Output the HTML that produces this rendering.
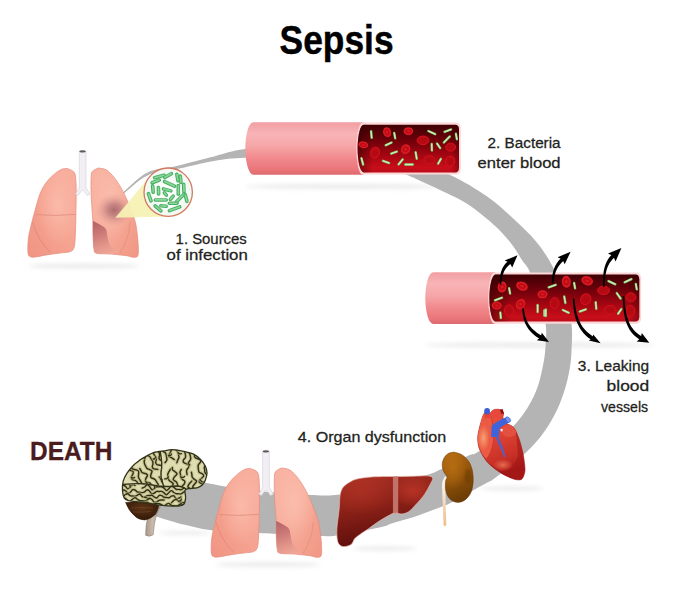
<!DOCTYPE html>
<html><head><meta charset="utf-8"><style>
html,body{margin:0;padding:0;background:#fff;}
svg{display:block;}
</style></head><body>
<svg width="673" height="596" viewBox="0 0 673 596">
<defs>
<linearGradient id="tubeG" x1="0" y1="0" x2="0" y2="1">
 <stop offset="0" stop-color="#f19ea1"/><stop offset="0.22" stop-color="#f8b4b6"/><stop offset="0.45" stop-color="#f6a6a8"/>
 <stop offset="0.7" stop-color="#f1888c"/><stop offset="0.9" stop-color="#ea7579"/><stop offset="1" stop-color="#dc6a70"/>
</linearGradient>
<linearGradient id="bloodG" x1="0" y1="0" x2="0" y2="1">
 <stop offset="0" stop-color="#3e0004"/><stop offset="0.3" stop-color="#6a000a"/><stop offset="0.65" stop-color="#a60612"/><stop offset="0.9" stop-color="#c80e1a"/><stop offset="1" stop-color="#bc0c18"/>
</linearGradient>
<linearGradient id="bloodH" x1="0" y1="0" x2="1" y2="0">
 <stop offset="0" stop-color="#300002" stop-opacity="0.55"/><stop offset="0.15" stop-color="#300002" stop-opacity="0"/>
 <stop offset="0.92" stop-color="#300002" stop-opacity="0"/><stop offset="1" stop-color="#300002" stop-opacity="0.35"/>
</linearGradient>
<linearGradient id="lungG1" x1="1" y1="0" x2="0" y2="1">
 <stop offset="0" stop-color="#f9b09f"/><stop offset="0.5" stop-color="#f6a391"/><stop offset="1" stop-color="#f09483"/>
</linearGradient>
<linearGradient id="lungG2" x1="0" y1="0" x2="1" y2="1">
 <stop offset="0" stop-color="#f9b4a4"/><stop offset="0.5" stop-color="#f7ab99"/><stop offset="1" stop-color="#f19684"/>
</linearGradient>
<linearGradient id="notchG" x1="0.3" y1="0" x2="0.6" y2="1">
 <stop offset="0" stop-color="#b86468"/><stop offset="0.35" stop-color="#cc7a78"/><stop offset="0.75" stop-color="#e4988c"/><stop offset="1" stop-color="#f0a696"/>
</linearGradient>
<radialGradient id="lungHi" cx="0.62" cy="0.42" r="0.45"><stop offset="0" stop-color="#fcc0b0" stop-opacity="0.75"/><stop offset="1" stop-color="#fcc0b0" stop-opacity="0"/></radialGradient>
<radialGradient id="lungHi2" cx="0.42" cy="0.38" r="0.45"><stop offset="0" stop-color="#fcc4b4" stop-opacity="0.7"/><stop offset="1" stop-color="#fcc4b4" stop-opacity="0"/></radialGradient>
<radialGradient id="infG"><stop offset="0" stop-color="#a46468" stop-opacity="0.9"/><stop offset="0.35" stop-color="#b47074" stop-opacity="0.7"/><stop offset="0.7" stop-color="#cc8482" stop-opacity="0.3"/><stop offset="1" stop-color="#e09a92" stop-opacity="0"/></radialGradient>
<radialGradient id="magG"><stop offset="0" stop-color="#ffffff"/><stop offset="1" stop-color="#f2f8f2"/></radialGradient>
<linearGradient id="liverG" x1="0" y1="0" x2="0.25" y2="1">
 <stop offset="0" stop-color="#a83024"/><stop offset="0.45" stop-color="#8e2218"/><stop offset="1" stop-color="#5e0e0c"/>
</linearGradient>
<radialGradient id="liverH" cx="0.8" cy="0.22" r="0.22"><stop offset="0" stop-color="#c23628" stop-opacity="0.75"/><stop offset="1" stop-color="#c83a2c" stop-opacity="0"/></radialGradient>
<radialGradient id="liverH2" cx="0.25" cy="0.2" r="0.35"><stop offset="0" stop-color="#b83426" stop-opacity="0.55"/><stop offset="1" stop-color="#c03a2a" stop-opacity="0"/></radialGradient>
<linearGradient id="ureG" x1="0" y1="0" x2="0" y2="1"><stop offset="0" stop-color="#fbf6f0"/><stop offset="0.35" stop-color="#f6e6d4"/><stop offset="1" stop-color="#eebc84"/></linearGradient>
<radialGradient id="kidH" cx="0.35" cy="0.3" r="0.45"><stop offset="0" stop-color="#c47818" stop-opacity="0.6"/><stop offset="1" stop-color="#cc7e1c" stop-opacity="0"/></radialGradient>
<radialGradient id="hHi"><stop offset="0" stop-color="#f8a474" stop-opacity="0.95"/><stop offset="1" stop-color="#f8a070" stop-opacity="0"/></radialGradient>
<radialGradient id="hHi2"><stop offset="0" stop-color="#f07a58" stop-opacity="0.8"/><stop offset="1" stop-color="#f07a58" stop-opacity="0"/></radialGradient>
<linearGradient id="stemG" x1="0" y1="0" x2="1" y2="0"><stop offset="0" stop-color="#a89888"/><stop offset="0.5" stop-color="#cbbcb0"/><stop offset="1" stop-color="#a89888"/></linearGradient>
<radialGradient id="cbG" cx="0.5" cy="0.35" r="0.7"><stop offset="0" stop-color="#5e3418"/><stop offset="1" stop-color="#2e1606"/></radialGradient>
<linearGradient id="kidG" x1="0" y1="0" x2="0.3" y2="1">
 <stop offset="0" stop-color="#b06610"/><stop offset="0.55" stop-color="#945408"/><stop offset="1" stop-color="#6e3e06"/>
</linearGradient>
<linearGradient id="heartG" x1="0" y1="0" x2="0.3" y2="1">
 <stop offset="0" stop-color="#ee5842"/><stop offset="0.45" stop-color="#de4434"/><stop offset="0.8" stop-color="#c83026"/><stop offset="1" stop-color="#a81a1a"/>
</linearGradient>
<filter id="blur1"><feGaussianBlur stdDeviation="1.2"/></filter>
<filter id="blur2"><feGaussianBlur stdDeviation="2"/></filter>

<clipPath id="magClip"><circle cx="168.2" cy="192.2" r="23.4"/></clipPath>
<clipPath id="clipT1"><rect x="358" y="124.7" width="101" height="47.6" rx="5"/></clipPath>
<clipPath id="clipT2"><rect x="490" y="274.6" width="149" height="47" rx="5"/></clipPath>
<clipPath id="heartClip"><path d="M482.7,416.4 C483.1,415.8 483.9,413.0 485.0,412.5 C486.1,412.0 488.0,413.9 489.5,413.5 C491.0,413.1 492.2,410.4 494.0,409.8 C495.8,409.2 498.4,409.1 500.0,409.6 C501.6,410.1 503.0,411.6 503.5,413.0 C504.0,414.4 502.6,416.3 503.0,418.0 C503.4,419.7 504.7,421.8 506.0,423.0 C507.3,424.2 509.6,424.6 511.0,425.5 C512.4,426.4 513.4,427.0 514.5,428.5 C515.6,430.0 516.5,432.4 517.4,434.6 C518.3,436.9 519.2,438.9 520.1,442.0 C521.0,445.1 522.1,449.2 522.9,453.0 C523.7,456.8 524.4,461.8 524.7,465.0 C525.0,468.2 525.2,470.1 524.7,472.4 C524.2,474.7 523.2,477.7 522.0,478.9 C520.8,480.1 519.2,479.9 517.4,479.8 C515.5,479.7 513.5,479.1 510.9,478.0 C508.3,476.9 504.8,475.2 501.7,473.4 C498.6,471.5 495.1,469.1 492.5,466.9 C489.9,464.7 487.9,462.7 486.0,460.4 C484.1,458.1 482.6,455.3 481.4,453.0 C480.2,450.7 479.2,449.2 478.6,446.6 C478.0,444.0 477.6,440.5 477.7,437.4 C477.8,434.3 478.6,431.5 479.4,428.0 C480.2,424.5 482.1,418.3 482.7,416.4 Z"/></clipPath>
<clipPath id="tlClip"><path d="M115,485 Q150,483 188,488 L195,515 L115,515 Z"/></clipPath>
<clipPath id="frClip"><path d="M110,440 L161,440 Q160,470 164,486.5 Q150,483 115,485 Z"/></clipPath>
<clipPath id="paClip"><path d="M161,440 L215,440 L215,492 L188,488 Q176,486 164,486.5 Q160,470 161,440 Z"/></clipPath>
<clipPath id="brainClip"><path d="M164.2,450.9 C165.6,450.7 169.1,449.5 172.6,449.6 C176.1,449.7 181.7,450.9 185.2,451.7 C188.7,452.5 191.1,452.9 193.6,454.2 C196.1,455.5 198.4,457.3 200.3,459.3 C202.2,461.3 204.2,463.8 205.3,466.0 C206.4,468.2 207.0,470.3 207.0,472.7 C207.0,475.1 206.1,478.1 205.3,480.2 C204.5,482.3 203.4,484.0 202.0,485.3 C200.6,486.6 199.2,487.2 196.9,487.8 C194.7,488.4 190.5,488.2 188.5,488.6 C186.5,489.1 185.5,488.9 185.0,490.5 C184.5,492.1 185.8,495.6 185.6,497.9 C185.3,500.2 185.2,503.1 183.5,504.5 C181.8,505.9 179.2,506.1 175.2,506.2 C171.2,506.3 163.9,505.7 159.6,505.2 C155.3,504.7 152.7,503.6 149.2,503.1 C145.7,502.6 142.3,502.4 138.8,502.0 C135.3,501.6 130.4,501.2 128.0,500.5 C125.6,499.8 125.1,499.5 124.2,497.9 C123.3,496.2 122.7,493.4 122.5,490.6 C122.3,487.8 122.5,484.0 123.2,481.2 C123.9,478.4 125.0,476.3 126.7,473.6 C128.4,470.9 131.3,467.5 133.5,465.2 C135.7,462.9 138.1,461.4 140.0,460.0 C141.9,458.6 142.9,458.0 145.2,456.8 C147.5,455.6 150.4,453.6 153.6,452.6 C156.8,451.6 162.4,451.2 164.2,450.9 Z"/></clipPath>
</defs>
<rect width="673" height="596" fill="#fff"/>
<g filter="url(#blur2)" fill="#e9e9e9"><ellipse cx="345" cy="186.5" rx="100" ry="2.3"/><ellipse cx="540" cy="345" rx="115" ry="2.3"/><ellipse cx="84" cy="266" rx="56" ry="2.3"/><ellipse cx="268" cy="564.5" rx="52" ry="2.3"/><ellipse cx="385" cy="548.5" rx="32" ry="2"/><ellipse cx="512" cy="488.5" rx="32" ry="2"/><ellipse cx="185" cy="533" rx="26" ry="1.8"/></g><path d="M108.0,206.0 C110.7,203.6 117.4,197.2 124.0,191.6 C130.6,186.0 138.7,176.8 147.5,172.5 C156.3,168.2 165.5,168.7 176.6,166.0 C187.7,163.3 202.6,159.2 214.0,156.4 C225.4,153.6 230.7,150.8 245.0,149.0 C259.3,147.2 280.8,145.3 300.0,145.5 C319.2,145.7 341.7,147.4 360.0,150.0 C378.3,152.6 395.0,156.8 410.0,161.0 C425.0,165.2 437.4,169.1 450.2,175.0 C463.0,180.9 476.2,189.0 486.8,196.3 C497.4,203.6 505.3,211.2 513.5,218.8 C521.7,226.4 529.8,233.9 536.2,241.7 C542.7,249.5 547.2,256.4 552.2,265.8 C557.2,275.2 562.8,288.1 566.0,298.0 C569.2,307.9 570.7,316.7 571.6,325.0 C572.5,333.3 571.9,341.0 571.6,348.0 C571.3,355.0 571.2,359.9 570.0,367.0 C568.8,374.1 567.0,382.7 564.5,390.5 C562.0,398.3 559.1,406.2 555.0,414.0 C550.9,421.8 545.8,430.2 540.0,437.5 C534.2,444.8 527.4,451.4 520.0,458.0 C512.6,464.6 501.1,473.3 495.7,477.4 C490.3,481.5 491.0,480.5 487.4,482.6 C483.8,484.7 480.1,486.6 473.9,490.0 C467.7,493.4 455.4,500.4 450.0,503.2 C444.6,506.0 446.7,504.7 441.3,506.8 C435.9,508.9 425.5,513.0 417.6,515.7 C409.7,518.4 400.2,520.8 393.8,522.8 C387.4,524.8 388.5,525.6 379.5,527.6 C370.5,529.6 349.8,533.6 340.0,535.0 C330.2,536.4 333.6,536.3 320.8,536.0 C308.0,535.7 281.0,534.1 263.0,533.2 C245.0,532.3 225.9,531.8 212.8,530.4 C199.7,529.0 193.8,527.0 184.6,524.8 C175.4,522.6 163.6,518.8 157.8,517.0 C152.0,515.2 151.3,514.5 150.0,514.0 L150,498 L155.0,480.0 C159.7,480.0 175.1,479.6 183.0,480.0 C190.9,480.4 195.2,481.2 202.4,482.3 C209.6,483.4 216.6,485.2 226.2,486.7 C235.8,488.2 245.6,489.8 260.0,491.2 C274.4,492.6 299.2,494.4 312.5,495.0 C325.8,495.6 328.2,496.0 339.5,494.5 C350.8,493.0 365.8,489.2 380.0,486.0 C394.2,482.8 414.7,478.2 425.0,475.4 C435.3,472.6 434.3,472.3 441.6,469.0 C448.9,465.7 462.7,458.4 468.6,455.6 C474.5,452.9 471.3,455.8 477.0,452.5 C482.7,449.2 495.3,442.4 503.0,436.0 C510.7,429.6 517.9,421.6 523.4,414.0 C528.9,406.4 533.1,398.3 536.3,390.5 C539.5,382.7 541.2,374.1 542.7,367.0 C544.2,359.9 544.9,355.0 545.4,348.0 C545.9,341.0 546.8,333.3 545.7,325.0 C544.6,316.7 541.7,307.0 539.0,298.0 C536.3,289.0 532.3,277.5 529.5,271.2 C526.7,264.9 525.2,264.9 522.0,260.0 C518.8,255.1 514.8,247.9 510.0,242.0 C505.2,236.1 500.6,230.8 493.4,224.4 C486.2,218.0 475.6,209.3 466.7,203.6 C457.8,197.9 449.9,194.8 440.0,190.0 C430.1,185.2 414.9,178.4 407.4,175.0 C399.9,171.6 402.9,171.8 395.0,169.5 C387.1,167.2 375.8,163.1 360.0,161.0 C344.2,158.9 319.2,157.5 300.0,157.0 C280.8,156.5 259.3,157.2 245.0,157.8 C230.7,158.5 225.4,159.0 214.0,160.9 C202.6,162.8 187.7,166.7 176.6,169.1 C165.5,171.5 156.3,171.4 147.5,175.5 C138.7,179.6 130.6,188.0 124.0,193.4 C117.4,198.8 110.7,205.6 108.0,208.0 Z" fill="#b4b4b4"/><g transform="translate(-183.3,-300)"><path d="M250.2,468.4 C251.3,468.9 255.5,470.0 257.0,471.7 C258.5,473.4 258.6,474.8 259.0,478.4 C259.4,482.0 259.5,487.4 259.5,493.5 C259.5,499.6 259.3,508.3 259.2,515.3 C259.1,522.3 258.9,530.1 258.6,535.4 C258.3,540.7 258.3,544.4 257.5,547.1 C256.7,549.8 255.9,550.6 253.6,551.6 C251.3,552.6 247.4,552.5 243.5,553.0 C239.6,553.5 234.3,554.2 230.1,554.9 C225.9,555.6 221.2,556.7 218.4,557.0 C215.6,557.3 214.6,557.3 213.4,556.6 C212.2,555.9 211.6,555.7 211.3,553.0 C211.0,550.3 211.1,544.7 211.5,540.4 C211.9,536.1 212.8,532.0 214.0,527.0 C215.2,522.0 216.8,515.9 218.4,510.3 C220.0,504.7 221.5,498.2 223.4,493.5 C225.3,488.8 227.6,485.2 230.1,481.8 C232.6,478.4 236.0,475.5 238.5,473.4 C241.0,471.3 243.2,470.0 245.2,469.2 C247.1,468.4 249.4,468.5 250.2,468.4 Z" fill="url(#lungG1)" stroke="#e48a7a" stroke-width="0.7"/><path d="M281.4,468.0 C282.8,468.3 287.0,468.3 289.8,470.0 C292.6,471.7 295.4,474.8 298.2,478.4 C301.0,482.0 304.0,487.0 306.5,491.8 C309.0,496.6 311.2,502.0 313.2,507.0 C315.2,512.0 317.4,517.3 318.6,522.0 C319.8,526.7 320.1,530.8 320.6,535.0 C321.1,539.2 321.5,543.6 321.6,547.1 C321.7,550.6 321.9,554.3 321.0,556.0 C320.1,557.7 317.9,557.2 316.0,557.2 C314.1,557.2 313.7,556.2 309.9,555.7 C306.1,555.2 298.1,554.4 293.1,554.0 C288.1,553.6 282.4,554.1 279.7,553.2 C277.0,552.3 277.8,551.8 277.2,548.8 C276.6,545.8 276.5,539.9 276.3,535.4 C276.1,530.9 276.4,526.2 276.2,522.0 C276.0,517.8 275.7,515.0 275.4,510.3 C275.1,505.6 274.6,498.8 274.4,493.5 C274.2,488.2 274.2,482.0 274.4,478.4 C274.6,474.8 274.3,473.4 275.5,471.7 C276.7,470.0 280.4,468.6 281.4,468.0 Z" fill="url(#lungG2)" stroke="#e48a7a" stroke-width="0.7"/><path d="M250.2,468.4 C251.3,468.9 255.5,470.0 257.0,471.7 C258.5,473.4 258.6,474.8 259.0,478.4 C259.4,482.0 259.5,487.4 259.5,493.5 C259.5,499.6 259.3,508.3 259.2,515.3 C259.1,522.3 258.9,530.1 258.6,535.4 C258.3,540.7 258.3,544.4 257.5,547.1 C256.7,549.8 255.9,550.6 253.6,551.6 C251.3,552.6 247.4,552.5 243.5,553.0 C239.6,553.5 234.3,554.2 230.1,554.9 C225.9,555.6 221.2,556.7 218.4,557.0 C215.6,557.3 214.6,557.3 213.4,556.6 C212.2,555.9 211.6,555.7 211.3,553.0 C211.0,550.3 211.1,544.7 211.5,540.4 C211.9,536.1 212.8,532.0 214.0,527.0 C215.2,522.0 216.8,515.9 218.4,510.3 C220.0,504.7 221.5,498.2 223.4,493.5 C225.3,488.8 227.6,485.2 230.1,481.8 C232.6,478.4 236.0,475.5 238.5,473.4 C241.0,471.3 243.2,470.0 245.2,469.2 C247.1,468.4 249.4,468.5 250.2,468.4 Z" fill="url(#lungHi)"/><path d="M281.4,468.0 C282.8,468.3 287.0,468.3 289.8,470.0 C292.6,471.7 295.4,474.8 298.2,478.4 C301.0,482.0 304.0,487.0 306.5,491.8 C309.0,496.6 311.2,502.0 313.2,507.0 C315.2,512.0 317.4,517.3 318.6,522.0 C319.8,526.7 320.1,530.8 320.6,535.0 C321.1,539.2 321.5,543.6 321.6,547.1 C321.7,550.6 321.9,554.3 321.0,556.0 C320.1,557.7 317.9,557.2 316.0,557.2 C314.1,557.2 313.7,556.2 309.9,555.7 C306.1,555.2 298.1,554.4 293.1,554.0 C288.1,553.6 282.4,554.1 279.7,553.2 C277.0,552.3 277.8,551.8 277.2,548.8 C276.6,545.8 276.5,539.9 276.3,535.4 C276.1,530.9 276.4,526.2 276.2,522.0 C276.0,517.8 275.7,515.0 275.4,510.3 C275.1,505.6 274.6,498.8 274.4,493.5 C274.2,488.2 274.2,482.0 274.4,478.4 C274.6,474.8 274.3,473.4 275.5,471.7 C276.7,470.0 280.4,468.6 281.4,468.0 Z" fill="url(#lungHi2)"/><path d="M276.2,521.0 C277.4,521.6 281.0,523.2 283.1,524.5 C285.2,525.8 287.8,526.9 289.0,528.7 C290.2,530.5 290.0,532.9 290.6,535.4 C291.2,537.9 291.4,541.5 292.5,543.8 C293.6,546.1 295.5,547.5 297.0,549.0 C298.5,550.5 302.2,551.7 301.5,552.5 C300.8,553.3 296.6,553.9 293.0,554.0 C289.4,554.1 282.3,554.1 279.7,553.2 C277.1,552.3 277.8,551.8 277.2,548.8 C276.6,545.8 276.5,540.0 276.3,535.4 C276.1,530.8 276.2,523.4 276.2,521.0 Z" fill="url(#notchG)"/><path d="M219.4,514.6 Q238,516.4 258.8,514.4" fill="none" stroke="#d98272" stroke-width="0.6"/><path d="M215.8,522 Q222,542 234,552.5" fill="none" stroke="#d98272" stroke-width="0.6"/><path d="M313.5,522 Q312,540 303,553.5" fill="none" stroke="#e08a7a" stroke-width="0.6"/><ellipse cx="297.5" cy="510" rx="19" ry="17" fill="url(#infG)"/><path d="M262.6,451.5 L262.6,487.5 Q261,491 258.8,494 L261.5,495.5 Q264,491.5 265.9,490 Q268,491.5 270.5,495.5 L273.5,494 Q271,491 269.3,487.5 L269.3,451.5 Z" fill="#f1eff3" stroke="#d2ced6" stroke-width="0.6"/><ellipse cx="265.95" cy="451.4" rx="3.2" ry="1.1" fill="#5e5a5e"/></g><path d="M115.3,217.8 L149.6,176.7 L168.2,192.2 L168.8,216.4 Z" fill="#f5f1b4" opacity="0.95"/><circle cx="168.2" cy="192.2" r="24.2" fill="url(#magG)" stroke="#d4785e" stroke-width="1.3"/><g clip-path="url(#magClip)"><g transform="translate(159.4,176.5) rotate(-15)"><rect x="-6.720000000000001" y="-1.8" width="13.440000000000001" height="3.6" rx="1.8" fill="#46b062"/><rect x="-5.5200000000000005" y="-0.9" width="11.040000000000001" height="1.6" rx="0.8" fill="#8cd69c"/></g><g transform="translate(168.1,175.6) rotate(-30)"><rect x="-5.6000000000000005" y="-1.8" width="11.200000000000001" height="3.6" rx="1.8" fill="#46b062"/><rect x="-4.4" y="-0.9" width="8.8" height="1.6" rx="0.8" fill="#8cd69c"/></g><g transform="translate(177.4,177.5) rotate(80)"><rect x="-5.040000000000001" y="-1.8" width="10.080000000000002" height="3.6" rx="1.8" fill="#46b062"/><rect x="-3.8400000000000007" y="-0.9" width="7.6800000000000015" height="1.6" rx="0.8" fill="#8cd69c"/></g><g transform="translate(180.6,179.3) rotate(85)"><rect x="-5.040000000000001" y="-1.8" width="10.080000000000002" height="3.6" rx="1.8" fill="#46b062"/><rect x="-3.8400000000000007" y="-0.9" width="7.6800000000000015" height="1.6" rx="0.8" fill="#8cd69c"/></g><g transform="translate(155.7,181.4) rotate(-20)"><rect x="-5.6000000000000005" y="-1.8" width="11.200000000000001" height="3.6" rx="1.8" fill="#46b062"/><rect x="-4.4" y="-0.9" width="8.8" height="1.6" rx="0.8" fill="#8cd69c"/></g><g transform="translate(169.5,183.9) rotate(25)"><rect x="-7.280000000000001" y="-1.8" width="14.560000000000002" height="3.6" rx="1.8" fill="#46b062"/><rect x="-6.080000000000001" y="-0.9" width="12.160000000000002" height="1.6" rx="0.8" fill="#8cd69c"/></g><g transform="translate(152.9,189) rotate(85)"><rect x="-5.040000000000001" y="-1.8" width="10.080000000000002" height="3.6" rx="1.8" fill="#46b062"/><rect x="-3.8400000000000007" y="-0.9" width="7.6800000000000015" height="1.6" rx="0.8" fill="#8cd69c"/></g><g transform="translate(158.5,190.8) rotate(88)"><rect x="-5.040000000000001" y="-1.8" width="10.080000000000002" height="3.6" rx="1.8" fill="#46b062"/><rect x="-3.8400000000000007" y="-0.9" width="7.6800000000000015" height="1.6" rx="0.8" fill="#8cd69c"/></g><g transform="translate(167.2,189.9) rotate(15)"><rect x="-5.6000000000000005" y="-1.8" width="11.200000000000001" height="3.6" rx="1.8" fill="#46b062"/><rect x="-4.4" y="-0.9" width="8.8" height="1.6" rx="0.8" fill="#8cd69c"/></g><g transform="translate(165.4,194) rotate(50)"><rect x="-3.3600000000000003" y="-1.8" width="6.720000000000001" height="3.6" rx="1.8" fill="#46b062"/><rect x="-2.16" y="-0.9" width="4.32" height="1.6" rx="0.8" fill="#8cd69c"/></g><g transform="translate(178.3,189.9) rotate(90)"><rect x="-6.16" y="-1.8" width="12.32" height="3.6" rx="1.8" fill="#46b062"/><rect x="-4.96" y="-0.9" width="9.92" height="1.6" rx="0.8" fill="#8cd69c"/></g><g transform="translate(183.8,188.1) rotate(88)"><rect x="-5.6000000000000005" y="-1.8" width="11.200000000000001" height="3.6" rx="1.8" fill="#46b062"/><rect x="-4.4" y="-0.9" width="8.8" height="1.6" rx="0.8" fill="#8cd69c"/></g><g transform="translate(149.7,197.3) rotate(70)"><rect x="-5.6000000000000005" y="-1.8" width="11.200000000000001" height="3.6" rx="1.8" fill="#46b062"/><rect x="-4.4" y="-0.9" width="8.8" height="1.6" rx="0.8" fill="#8cd69c"/></g><g transform="translate(160.8,200) rotate(0)"><rect x="-7.280000000000001" y="-1.8" width="14.560000000000002" height="3.6" rx="1.8" fill="#46b062"/><rect x="-6.080000000000001" y="-0.9" width="12.160000000000002" height="1.6" rx="0.8" fill="#8cd69c"/></g><g transform="translate(171.8,197.7) rotate(-50)"><rect x="-3.9200000000000004" y="-1.8" width="7.840000000000001" height="3.6" rx="1.8" fill="#46b062"/><rect x="-2.7200000000000006" y="-0.9" width="5.440000000000001" height="1.6" rx="0.8" fill="#8cd69c"/></g><g transform="translate(180.6,197.7) rotate(-45)"><rect x="-7.280000000000001" y="-1.8" width="14.560000000000002" height="3.6" rx="1.8" fill="#46b062"/><rect x="-6.080000000000001" y="-0.9" width="12.160000000000002" height="1.6" rx="0.8" fill="#8cd69c"/></g><g transform="translate(186.1,198.2) rotate(75)"><rect x="-5.040000000000001" y="-1.8" width="10.080000000000002" height="3.6" rx="1.8" fill="#46b062"/><rect x="-3.8400000000000007" y="-0.9" width="7.6800000000000015" height="1.6" rx="0.8" fill="#8cd69c"/></g><g transform="translate(158,208.4) rotate(40)"><rect x="-5.6000000000000005" y="-1.8" width="11.200000000000001" height="3.6" rx="1.8" fill="#46b062"/><rect x="-4.4" y="-0.9" width="8.8" height="1.6" rx="0.8" fill="#8cd69c"/></g><g transform="translate(163.5,206) rotate(5)"><rect x="-4.48" y="-1.8" width="8.96" height="3.6" rx="1.8" fill="#46b062"/><rect x="-3.2800000000000002" y="-0.9" width="6.5600000000000005" height="1.6" rx="0.8" fill="#8cd69c"/></g><g transform="translate(174.6,208.8) rotate(-20)"><rect x="-7.280000000000001" y="-1.8" width="14.560000000000002" height="3.6" rx="1.8" fill="#46b062"/><rect x="-6.080000000000001" y="-0.9" width="12.160000000000002" height="1.6" rx="0.8" fill="#8cd69c"/></g><g transform="translate(173.2,203.3) rotate(0)"><rect x="-5.6000000000000005" y="-1.8" width="11.200000000000001" height="3.6" rx="1.8" fill="#46b062"/><rect x="-4.4" y="-0.9" width="8.8" height="1.6" rx="0.8" fill="#8cd69c"/></g></g><path d="M253.3,122.3 L363.5,122.3 L363.5,174.8 L253.3,174.8 A8,26.250000000000007 0 0 1 253.3,122.3 Z" fill="url(#tubeG)"/><path d="M362.0,122.5 L455,122.5 Q460.8,122.5 460.8,128.3 L460.8,168.8 Q460.8,174.60000000000002 455,174.60000000000002 L362.0,174.60000000000002 A6.5,26.250000000000007 0 0 1 362.0,122.5 Z" fill="#fcd6d6"/><path d="M363.6,124.7 L455,124.7 Q459,124.7 459,129.7 L459,167.4 Q459,172.4 455,172.4 L363.6,172.4 A6.0,23.85 0 0 1 363.6,124.7 Z" fill="url(#bloodG)"/><path d="M363.6,124.7 L455,124.7 Q459,124.7 459,129.7 L459,167.4 Q459,172.4 455,172.4 L363.6,172.4 A6.0,23.85 0 0 1 363.6,124.7 Z" fill="url(#bloodH)"/><g clip-path="url(#clipT1)"><g transform="translate(387.1,132.2) rotate(75)"><ellipse rx="5" ry="4" fill="#dc1c24"/><ellipse rx="3.50" ry="2.56" fill="#c00c16"/><ellipse rx="1.60" ry="0.96" fill="#d81a22"/></g><g transform="translate(363.3,144.8) rotate(10)"><ellipse rx="4.9" ry="3.4" fill="#dc1c24"/><ellipse rx="3.43" ry="2.18" fill="#c00c16"/><ellipse rx="1.57" ry="0.82" fill="#d81a22"/></g><g transform="translate(375.0,152.6) rotate(20)"><ellipse rx="4.4" ry="5.4" fill="#b80a14" stroke="#d4121c" stroke-width="1"/><ellipse rx="1.98" ry="1.89" fill="#b00a12"/></g><g transform="translate(408.4,131.2) rotate(0)"><ellipse rx="4.8" ry="4" fill="#dc1c24"/><ellipse rx="3.36" ry="2.56" fill="#c00c16"/><ellipse rx="1.54" ry="0.96" fill="#d81a22"/></g><g transform="translate(405.6,149.2) rotate(30)"><ellipse rx="4.5" ry="5" fill="#dc1c24"/><ellipse rx="3.15" ry="3.20" fill="#c00c16"/><ellipse rx="1.44" ry="1.20" fill="#d81a22"/></g><g transform="translate(423.0,140.4) rotate(0)"><ellipse rx="6" ry="4.3" fill="#b80a14" stroke="#d4121c" stroke-width="1"/><ellipse rx="2.70" ry="1.50" fill="#b00a12"/></g><g transform="translate(450.7,147.2) rotate(0)"><ellipse rx="5" ry="4" fill="#b80a14" stroke="#d4121c" stroke-width="1"/><ellipse rx="2.25" ry="1.40" fill="#b00a12"/></g><g transform="translate(429.3,159.9) rotate(0)"><ellipse rx="5.5" ry="4.3" fill="#b80a14" stroke="#d4121c" stroke-width="1"/><ellipse rx="2.48" ry="1.50" fill="#b00a12"/></g><g transform="translate(450.2,161.3) rotate(20)"><ellipse rx="4.5" ry="5" fill="#b80a14" stroke="#d4121c" stroke-width="1"/><ellipse rx="2.02" ry="1.75" fill="#b00a12"/></g><g transform="translate(371.4,134.6) rotate(85)"><rect x="-4.5" y="-1.2" width="9" height="2.4" rx="1.2" fill="#78c060"/><rect x="-3.7" y="-0.6499999999999999" width="7.4" height="1.2999999999999998" rx="0.6499999999999999" fill="#d0ecbc"/></g><g transform="translate(394.7,135.6) rotate(80)"><rect x="-4.0" y="-1.2" width="8" height="2.4" rx="1.2" fill="#78c060"/><rect x="-3.2" y="-0.6499999999999999" width="6.4" height="1.2999999999999998" rx="0.6499999999999999" fill="#d0ecbc"/></g><g transform="translate(388.6,143.9) rotate(-25)"><rect x="-4.5" y="-1.2" width="9" height="2.4" rx="1.2" fill="#78c060"/><rect x="-3.7" y="-0.6499999999999999" width="7.4" height="1.2999999999999998" rx="0.6499999999999999" fill="#d0ecbc"/></g><g transform="translate(394.0,152.6) rotate(-20)"><rect x="-4.25" y="-1.2" width="8.5" height="2.4" rx="1.2" fill="#78c060"/><rect x="-3.45" y="-0.6499999999999999" width="6.9" height="1.2999999999999998" rx="0.6499999999999999" fill="#d0ecbc"/></g><g transform="translate(386.0,161.9) rotate(20)"><rect x="-4.5" y="-1.2" width="9" height="2.4" rx="1.2" fill="#78c060"/><rect x="-3.7" y="-0.6499999999999999" width="7.4" height="1.2999999999999998" rx="0.6499999999999999" fill="#d0ecbc"/></g><g transform="translate(400.6,161.9) rotate(-50)"><rect x="-4.5" y="-1.2" width="9" height="2.4" rx="1.2" fill="#78c060"/><rect x="-3.7" y="-0.6499999999999999" width="7.4" height="1.2999999999999998" rx="0.6499999999999999" fill="#d0ecbc"/></g><g transform="translate(362.3,161.4) rotate(75)"><rect x="-4.5" y="-1.2" width="9" height="2.4" rx="1.2" fill="#78c060"/><rect x="-3.7" y="-0.6499999999999999" width="7.4" height="1.2999999999999998" rx="0.6499999999999999" fill="#d0ecbc"/></g><g transform="translate(409.0,164.5) rotate(0)"><rect x="-5.0" y="-1.2" width="10" height="2.4" rx="1.2" fill="#78c060"/><rect x="-4.2" y="-0.6499999999999999" width="8.4" height="1.2999999999999998" rx="0.6499999999999999" fill="#d0ecbc"/></g><g transform="translate(431.8,132.6) rotate(25)"><rect x="-5.0" y="-1.2" width="10" height="2.4" rx="1.2" fill="#78c060"/><rect x="-4.2" y="-0.6499999999999999" width="8.4" height="1.2999999999999998" rx="0.6499999999999999" fill="#d0ecbc"/></g><g transform="translate(447.8,130.7) rotate(-20)"><rect x="-4.75" y="-1.2" width="9.5" height="2.4" rx="1.2" fill="#78c060"/><rect x="-3.95" y="-0.6499999999999999" width="7.9" height="1.2999999999999998" rx="0.6499999999999999" fill="#d0ecbc"/></g><g transform="translate(446.8,139.5) rotate(-45)"><rect x="-5.5" y="-1.2" width="11" height="2.4" rx="1.2" fill="#78c060"/><rect x="-4.7" y="-0.6499999999999999" width="9.4" height="1.2999999999999998" rx="0.6499999999999999" fill="#d0ecbc"/></g><g transform="translate(456.4,136.5) rotate(80)"><rect x="-4.0" y="-1.2" width="8" height="2.4" rx="1.2" fill="#78c060"/><rect x="-3.2" y="-0.6499999999999999" width="6.4" height="1.2999999999999998" rx="0.6499999999999999" fill="#d0ecbc"/></g><g transform="translate(431.8,147.2) rotate(88)"><rect x="-4.5" y="-1.2" width="9" height="2.4" rx="1.2" fill="#78c060"/><rect x="-3.7" y="-0.6499999999999999" width="7.4" height="1.2999999999999998" rx="0.6499999999999999" fill="#d0ecbc"/></g><g transform="translate(438.6,145.8) rotate(55)"><rect x="-4.0" y="-1.2" width="8" height="2.4" rx="1.2" fill="#78c060"/><rect x="-3.2" y="-0.6499999999999999" width="6.4" height="1.2999999999999998" rx="0.6499999999999999" fill="#d0ecbc"/></g><g transform="translate(416.2,155.5) rotate(80)"><rect x="-4.5" y="-1.2" width="9" height="2.4" rx="1.2" fill="#78c060"/><rect x="-3.7" y="-0.6499999999999999" width="7.4" height="1.2999999999999998" rx="0.6499999999999999" fill="#d0ecbc"/></g><g transform="translate(439.5,161.3) rotate(-60)"><rect x="-4.0" y="-1.2" width="8" height="2.4" rx="1.2" fill="#78c060"/><rect x="-3.2" y="-0.6499999999999999" width="6.4" height="1.2999999999999998" rx="0.6499999999999999" fill="#d0ecbc"/></g></g><path d="M433.3,272.2 L495.3,272.2 L495.3,324 L433.3,324 A8,25.900000000000006 0 0 1 433.3,272.2 Z" fill="url(#tubeG)"/><path d="M493.8,272.4 L635.3,272.4 Q641.0999999999999,272.4 641.0999999999999,278.2 L641.0999999999999,318 Q641.0999999999999,323.8 635.3,323.8 L493.8,323.8 A6.5,25.900000000000006 0 0 1 493.8,272.4 Z" fill="#fcd6d6"/><path d="M495.40000000000003,274.59999999999997 L635.3,274.59999999999997 Q639.3,274.59999999999997 639.3,279.59999999999997 L639.3,316.6 Q639.3,321.6 635.3,321.6 L495.40000000000003,321.6 A6.0,23.50000000000003 0 0 1 495.40000000000003,274.59999999999997 Z" fill="url(#bloodG)"/><path d="M495.40000000000003,274.59999999999997 L635.3,274.59999999999997 Q639.3,274.59999999999997 639.3,279.59999999999997 L639.3,316.6 Q639.3,321.6 635.3,321.6 L495.40000000000003,321.6 A6.0,23.50000000000003 0 0 1 495.40000000000003,274.59999999999997 Z" fill="url(#bloodH)"/><g clip-path="url(#clipT2)"><g transform="translate(502.1,287.0) rotate(10)"><ellipse rx="4.5" ry="5.5" fill="#dc1c24"/><ellipse rx="3.15" ry="3.52" fill="#c00c16"/><ellipse rx="1.44" ry="1.32" fill="#d81a22"/></g><g transform="translate(522.0,286.1) rotate(20)"><ellipse rx="6" ry="4.3" fill="#dc1c24"/><ellipse rx="4.20" ry="2.75" fill="#c00c16"/><ellipse rx="1.92" ry="1.03" fill="#d81a22"/></g><g transform="translate(496.7,305.5) rotate(0)"><ellipse rx="5" ry="4" fill="#dc1c24"/><ellipse rx="3.50" ry="2.56" fill="#c00c16"/><ellipse rx="1.60" ry="0.96" fill="#d81a22"/></g><g transform="translate(508.9,310.4) rotate(0)"><ellipse rx="4.5" ry="5.5" fill="#b80a14" stroke="#d4121c" stroke-width="1"/><ellipse rx="2.02" ry="1.92" fill="#b00a12"/></g><g transform="translate(520.6,304.1) rotate(30)"><ellipse rx="4.5" ry="5.5" fill="#dc1c24"/><ellipse rx="3.15" ry="3.52" fill="#c00c16"/><ellipse rx="1.44" ry="1.32" fill="#d81a22"/></g><g transform="translate(542.5,294.3) rotate(0)"><ellipse rx="5" ry="4" fill="#dc1c24"/><ellipse rx="3.50" ry="2.56" fill="#c00c16"/><ellipse rx="1.60" ry="0.96" fill="#d81a22"/></g><g transform="translate(566.3,281.7) rotate(-5)"><ellipse rx="4.5" ry="6" fill="#dc1c24"/><ellipse rx="3.15" ry="3.84" fill="#c00c16"/><ellipse rx="1.44" ry="1.44" fill="#d81a22"/></g><g transform="translate(587.2,280.7) rotate(20)"><ellipse rx="6" ry="4.5" fill="#dc1c24"/><ellipse rx="4.20" ry="2.88" fill="#c00c16"/><ellipse rx="1.92" ry="1.08" fill="#d81a22"/></g><g transform="translate(554.6,303.1) rotate(0)"><ellipse rx="4.5" ry="5.5" fill="#b80a14" stroke="#d4121c" stroke-width="1"/><ellipse rx="2.02" ry="1.92" fill="#b00a12"/></g><g transform="translate(585.8,299.2) rotate(30)"><ellipse rx="5" ry="5.5" fill="#b80a14" stroke="#d4121c" stroke-width="1"/><ellipse rx="2.25" ry="1.92" fill="#b00a12"/></g><g transform="translate(603.6,290.4) rotate(0)"><ellipse rx="6" ry="4.3" fill="#b80a14" stroke="#d4121c" stroke-width="1"/><ellipse rx="2.70" ry="1.50" fill="#b00a12"/></g><g transform="translate(630.9,297.3) rotate(0)"><ellipse rx="5" ry="4.5" fill="#b80a14" stroke="#d4121c" stroke-width="1"/><ellipse rx="2.25" ry="1.57" fill="#b00a12"/></g><g transform="translate(610.0,309.9) rotate(0)"><ellipse rx="6" ry="4.5" fill="#b80a14" stroke="#d4121c" stroke-width="1"/><ellipse rx="2.70" ry="1.57" fill="#b00a12"/></g><g transform="translate(630.4,310.9) rotate(0)"><ellipse rx="4.5" ry="5.5" fill="#b80a14" stroke="#d4121c" stroke-width="1"/><ellipse rx="2.02" ry="1.92" fill="#b00a12"/></g><g transform="translate(509.6,290.9) rotate(80)"><rect x="-4.0" y="-1.2" width="8" height="2.4" rx="1.2" fill="#78c060"/><rect x="-3.2" y="-0.6499999999999999" width="6.4" height="1.2999999999999998" rx="0.6499999999999999" fill="#d0ecbc"/></g><g transform="translate(498.5,299.0) rotate(-20)"><rect x="-5.0" y="-1.2" width="10" height="2.4" rx="1.2" fill="#78c060"/><rect x="-4.2" y="-0.6499999999999999" width="8.4" height="1.2999999999999998" rx="0.6499999999999999" fill="#d0ecbc"/></g><g transform="translate(500.6,315.3) rotate(85)"><rect x="-4.0" y="-1.2" width="8" height="2.4" rx="1.2" fill="#78c060"/><rect x="-3.2" y="-0.6499999999999999" width="6.4" height="1.2999999999999998" rx="0.6499999999999999" fill="#d0ecbc"/></g><g transform="translate(537.6,308.5) rotate(90)"><rect x="-4.75" y="-1.2" width="9.5" height="2.4" rx="1.2" fill="#78c060"/><rect x="-3.95" y="-0.6499999999999999" width="7.9" height="1.2999999999999998" rx="0.6499999999999999" fill="#d0ecbc"/></g><g transform="translate(544.4,313.0) rotate(90)"><rect x="-4.0" y="-1.2" width="8" height="2.4" rx="1.2" fill="#78c060"/><rect x="-3.2" y="-0.6499999999999999" width="6.4" height="1.2999999999999998" rx="0.6499999999999999" fill="#d0ecbc"/></g><g transform="translate(552.2,286.1) rotate(-20)"><rect x="-5.0" y="-1.2" width="10" height="2.4" rx="1.2" fill="#78c060"/><rect x="-4.2" y="-0.6499999999999999" width="8.4" height="1.2999999999999998" rx="0.6499999999999999" fill="#d0ecbc"/></g><g transform="translate(574.6,285.6) rotate(80)"><rect x="-4.0" y="-1.2" width="8" height="2.4" rx="1.2" fill="#78c060"/><rect x="-3.2" y="-0.6499999999999999" width="6.4" height="1.2999999999999998" rx="0.6499999999999999" fill="#d0ecbc"/></g><g transform="translate(564.8,299.7) rotate(80)"><rect x="-4.5" y="-1.2" width="9" height="2.4" rx="1.2" fill="#78c060"/><rect x="-3.7" y="-0.6499999999999999" width="7.4" height="1.2999999999999998" rx="0.6499999999999999" fill="#d0ecbc"/></g><g transform="translate(545.8,312.8) rotate(90)"><rect x="-4.5" y="-1.2" width="9" height="2.4" rx="1.2" fill="#78c060"/><rect x="-3.7" y="-0.6499999999999999" width="7.4" height="1.2999999999999998" rx="0.6499999999999999" fill="#d0ecbc"/></g><g transform="translate(565.8,311.4) rotate(25)"><rect x="-4.5" y="-1.2" width="9" height="2.4" rx="1.2" fill="#78c060"/><rect x="-3.7" y="-0.6499999999999999" width="7.4" height="1.2999999999999998" rx="0.6499999999999999" fill="#d0ecbc"/></g><g transform="translate(582.8,310.4) rotate(-20)"><rect x="-4.5" y="-1.2" width="9" height="2.4" rx="1.2" fill="#78c060"/><rect x="-3.7" y="-0.6499999999999999" width="7.4" height="1.2999999999999998" rx="0.6499999999999999" fill="#d0ecbc"/></g><g transform="translate(596.0,305.5) rotate(85)"><rect x="-4.5" y="-1.2" width="9" height="2.4" rx="1.2" fill="#78c060"/><rect x="-3.7" y="-0.6499999999999999" width="7.4" height="1.2999999999999998" rx="0.6499999999999999" fill="#d0ecbc"/></g><g transform="translate(611.9,282.7) rotate(25)"><rect x="-5.0" y="-1.2" width="10" height="2.4" rx="1.2" fill="#78c060"/><rect x="-4.2" y="-0.6499999999999999" width="8.4" height="1.2999999999999998" rx="0.6499999999999999" fill="#d0ecbc"/></g><g transform="translate(628.0,280.7) rotate(-25)"><rect x="-5.0" y="-1.2" width="10" height="2.4" rx="1.2" fill="#78c060"/><rect x="-4.2" y="-0.6499999999999999" width="8.4" height="1.2999999999999998" rx="0.6499999999999999" fill="#d0ecbc"/></g><g transform="translate(636.3,286.6) rotate(80)"><rect x="-4.0" y="-1.2" width="8" height="2.4" rx="1.2" fill="#78c060"/><rect x="-3.2" y="-0.6499999999999999" width="6.4" height="1.2999999999999998" rx="0.6499999999999999" fill="#d0ecbc"/></g><g transform="translate(618.7,295.8) rotate(55)"><rect x="-4.5" y="-1.2" width="9" height="2.4" rx="1.2" fill="#78c060"/><rect x="-3.7" y="-0.6499999999999999" width="7.4" height="1.2999999999999998" rx="0.6499999999999999" fill="#d0ecbc"/></g><g transform="translate(619.7,311.4) rotate(-55)"><rect x="-4.0" y="-1.2" width="8" height="2.4" rx="1.2" fill="#78c060"/><rect x="-3.2" y="-0.6499999999999999" width="6.4" height="1.2999999999999998" rx="0.6499999999999999" fill="#d0ecbc"/></g></g><path d="M501.25,284.42 L501.34,283.26 L501.44,282.12 L501.56,280.99 L501.71,279.88 L501.89,278.79 L502.09,277.71 L502.32,276.66 L502.58,275.63 L502.88,274.62 L503.21,273.64 L503.58,272.68 L503.99,271.75 L504.44,270.84 L504.93,269.96 L505.46,269.11 L506.04,268.29 L506.67,267.49 L507.35,266.72 L508.08,265.98 L508.87,265.26 L509.72,264.57 L510.63,263.91 L511.61,263.27 L512.70,262.63 L510.54,259.27 L509.42,260.05 L508.34,260.89 L507.34,261.76 L506.41,262.66 L505.56,263.59 L504.77,264.55 L504.06,265.53 L503.41,266.53 L502.83,267.55 L502.31,268.59 L501.85,269.64 L501.44,270.72 L501.09,271.80 L500.78,272.90 L500.52,274.00 L500.31,275.12 L500.13,276.25 L499.99,277.39 L499.88,278.54 L499.81,279.69 L499.76,280.85 L499.73,282.02 L499.73,283.20 L499.75,284.38 Z" fill="#000"/><path d="M517.5,255.2 L504.7,260.5 L509.72,262.81 L512.2,267.6 Z" fill="#000"/><path d="M553.35,283.64 L553.46,282.45 L553.59,281.28 L553.74,280.12 L553.91,278.97 L554.11,277.83 L554.34,276.71 L554.60,275.60 L554.89,274.50 L555.21,273.42 L555.57,272.36 L555.97,271.31 L556.41,270.28 L556.89,269.26 L557.42,268.27 L557.99,267.29 L558.62,266.32 L559.29,265.37 L560.02,264.44 L560.81,263.52 L561.65,262.62 L562.56,261.73 L563.54,260.86 L564.58,260.00 L565.72,259.13 L563.19,256.03 L562.05,257.04 L560.95,258.08 L559.94,259.14 L558.99,260.22 L558.12,261.31 L557.32,262.42 L556.59,263.53 L555.92,264.66 L555.32,265.80 L554.77,266.95 L554.29,268.10 L553.85,269.27 L553.47,270.44 L553.14,271.61 L552.86,272.79 L552.61,273.97 L552.41,275.16 L552.24,276.35 L552.11,277.54 L552.01,278.74 L551.93,279.94 L551.88,281.15 L551.86,282.36 L551.85,283.56 Z" fill="#000"/><path d="M570.6,251.7 L557.6,257.2 L562.47,259.48 L564.7,264.3 Z" fill="#000"/><path d="M604.55,287.00 L604.61,285.16 L604.69,283.37 L604.80,281.64 L604.93,279.96 L605.09,278.33 L605.27,276.75 L605.50,275.22 L605.75,273.74 L606.05,272.30 L606.38,270.92 L606.75,269.58 L607.17,268.29 L607.64,267.04 L608.15,265.84 L608.71,264.67 L609.32,263.55 L609.99,262.46 L610.71,261.40 L611.50,260.38 L612.34,259.39 L613.26,258.42 L614.24,257.48 L615.29,256.56 L616.46,255.63 L613.86,252.59 L612.69,253.66 L611.58,254.78 L610.54,255.93 L609.58,257.10 L608.71,258.30 L607.90,259.53 L607.18,260.79 L606.52,262.07 L605.93,263.39 L605.41,264.72 L604.95,266.09 L604.54,267.49 L604.19,268.91 L603.90,270.37 L603.65,271.86 L603.45,273.38 L603.28,274.94 L603.16,276.54 L603.07,278.17 L603.01,279.85 L602.99,281.57 L602.99,283.33 L603.01,285.14 L603.05,287.00 Z" fill="#000"/><path d="M621.4,248 L608,253.4 L613.14,256.08 L615.6,261.4 Z" fill="#000"/><path d="M522.25,308.47 L522.34,309.92 L522.45,311.37 L522.59,312.81 L522.77,314.23 L522.99,315.65 L523.26,317.06 L523.58,318.45 L523.96,319.84 L524.40,321.21 L524.90,322.58 L525.48,323.93 L526.14,325.28 L526.88,326.61 L527.71,327.93 L528.63,329.23 L529.65,330.52 L530.77,331.79 L532.00,333.04 L533.33,334.27 L534.77,335.49 L536.33,336.68 L538.01,337.86 L539.82,339.02 L541.72,340.14 L543.67,336.64 L541.78,335.65 L540.04,334.66 L538.43,333.65 L536.94,332.63 L535.56,331.60 L534.28,330.55 L533.10,329.49 L532.02,328.41 L531.03,327.32 L530.12,326.20 L529.29,325.07 L528.53,323.92 L527.85,322.75 L527.23,321.55 L526.67,320.34 L526.17,319.10 L525.72,317.83 L525.32,316.54 L524.97,315.23 L524.66,313.90 L524.39,312.54 L524.15,311.16 L523.93,309.76 L523.75,308.33 Z" fill="#000"/><path d="M549,341.9 L541.8,332.7 L540.66,337.26 L536.8,340.3 Z" fill="#000"/><path d="M572.85,298.56 L572.96,300.73 L573.10,302.88 L573.27,305.00 L573.47,307.08 L573.71,309.13 L574.00,311.15 L574.35,313.13 L574.75,315.08 L575.21,317.00 L575.74,318.88 L576.35,320.74 L577.03,322.55 L577.81,324.34 L578.67,326.08 L579.62,327.79 L580.68,329.46 L581.85,331.10 L583.13,332.69 L584.52,334.23 L586.03,335.73 L587.67,337.19 L589.43,338.59 L591.32,339.95 L593.31,341.23 L595.41,337.83 L593.44,336.68 L591.65,335.52 L589.97,334.31 L588.42,333.06 L586.98,331.77 L585.64,330.43 L584.40,329.05 L583.26,327.63 L582.21,326.16 L581.25,324.64 L580.36,323.07 L579.56,321.45 L578.82,319.79 L578.15,318.08 L577.55,316.32 L577.01,314.51 L576.53,312.66 L576.09,310.76 L575.71,308.82 L575.37,306.83 L575.07,304.79 L574.80,302.72 L574.56,300.60 L574.35,298.44 Z" fill="#000"/><path d="M600.6,343.3 L593.2,334.4 L592.34,338.31 L588.8,340.6 Z" fill="#000"/><path d="M622.75,296.04 L622.84,298.75 L622.95,301.37 L623.09,303.91 L623.26,306.37 L623.48,308.74 L623.73,311.03 L624.04,313.25 L624.41,315.40 L624.83,317.47 L625.31,319.47 L625.87,321.41 L626.51,323.28 L627.22,325.09 L628.02,326.84 L628.92,328.52 L629.91,330.14 L631.00,331.71 L632.20,333.21 L633.51,334.65 L634.94,336.03 L636.48,337.35 L638.14,338.61 L639.92,339.81 L641.78,340.93 L643.76,337.45 L641.93,336.47 L640.26,335.47 L638.72,334.42 L637.28,333.32 L635.95,332.16 L634.71,330.95 L633.57,329.68 L632.51,328.34 L631.53,326.93 L630.64,325.45 L629.81,323.90 L629.06,322.27 L628.38,320.55 L627.75,318.76 L627.19,316.88 L626.69,314.91 L626.24,312.86 L625.84,310.72 L625.48,308.49 L625.17,306.17 L624.89,303.76 L624.65,301.26 L624.44,298.66 L624.25,295.96 Z" fill="#000"/><path d="M649.3,342.7 L641.8,333.1 L640.66,338.06 L636.7,341.5 Z" fill="#000"/><path d="M346.9,483.9 C348.4,483.1 352.1,480.4 356.2,479.3 C360.3,478.2 365.2,477.5 371.6,477.0 C378.0,476.5 387.8,476.6 394.8,476.5 C401.8,476.4 407.7,476.3 413.4,476.2 C419.1,476.1 425.6,475.5 428.8,475.9 C432.0,476.3 432.4,477.2 432.7,478.5 C433.0,479.8 431.8,481.2 430.4,483.9 C429.0,486.6 426.5,491.3 424.2,494.7 C421.9,498.1 419.0,501.2 416.4,504.0 C413.8,506.8 411.3,510.0 408.7,511.7 C406.1,513.4 403.2,513.9 401.0,514.0 C398.8,514.1 397.4,512.4 395.6,512.5 C393.8,512.6 392.9,513.4 390.2,514.8 C387.5,516.2 383.0,518.7 379.4,521.0 C375.8,523.3 371.9,526.4 368.5,528.7 C365.1,531.0 361.6,533.2 359.3,534.9 C357.0,536.6 355.9,537.2 354.6,538.8 C353.3,540.3 353.0,542.9 351.5,544.2 C350.0,545.5 347.2,546.2 345.4,546.5 C343.6,546.8 342.0,546.6 340.7,545.7 C339.4,544.8 338.2,543.9 337.6,541.1 C337.0,538.3 336.6,534.1 336.9,528.7 C337.2,523.3 338.7,514.0 339.2,508.6 C339.7,503.2 339.5,499.7 340.0,496.3 C340.5,492.9 341.2,490.6 342.3,488.5 C343.4,486.4 346.1,484.7 346.9,483.9 Z" fill="url(#liverG)" stroke="#e6bcb4" stroke-width="0.7"/><path d="M346.9,483.9 C348.4,483.1 352.1,480.4 356.2,479.3 C360.3,478.2 365.2,477.5 371.6,477.0 C378.0,476.5 387.8,476.6 394.8,476.5 C401.8,476.4 407.7,476.3 413.4,476.2 C419.1,476.1 425.6,475.5 428.8,475.9 C432.0,476.3 432.4,477.2 432.7,478.5 C433.0,479.8 431.8,481.2 430.4,483.9 C429.0,486.6 426.5,491.3 424.2,494.7 C421.9,498.1 419.0,501.2 416.4,504.0 C413.8,506.8 411.3,510.0 408.7,511.7 C406.1,513.4 403.2,513.9 401.0,514.0 C398.8,514.1 397.4,512.4 395.6,512.5 C393.8,512.6 392.9,513.4 390.2,514.8 C387.5,516.2 383.0,518.7 379.4,521.0 C375.8,523.3 371.9,526.4 368.5,528.7 C365.1,531.0 361.6,533.2 359.3,534.9 C357.0,536.6 355.9,537.2 354.6,538.8 C353.3,540.3 353.0,542.9 351.5,544.2 C350.0,545.5 347.2,546.2 345.4,546.5 C343.6,546.8 342.0,546.6 340.7,545.7 C339.4,544.8 338.2,543.9 337.6,541.1 C337.0,538.3 336.6,534.1 336.9,528.7 C337.2,523.3 338.7,514.0 339.2,508.6 C339.7,503.2 339.5,499.7 340.0,496.3 C340.5,492.9 341.2,490.6 342.3,488.5 C343.4,486.4 346.1,484.7 346.9,483.9 Z" fill="url(#liverH)"/><path d="M346.9,483.9 C348.4,483.1 352.1,480.4 356.2,479.3 C360.3,478.2 365.2,477.5 371.6,477.0 C378.0,476.5 387.8,476.6 394.8,476.5 C401.8,476.4 407.7,476.3 413.4,476.2 C419.1,476.1 425.6,475.5 428.8,475.9 C432.0,476.3 432.4,477.2 432.7,478.5 C433.0,479.8 431.8,481.2 430.4,483.9 C429.0,486.6 426.5,491.3 424.2,494.7 C421.9,498.1 419.0,501.2 416.4,504.0 C413.8,506.8 411.3,510.0 408.7,511.7 C406.1,513.4 403.2,513.9 401.0,514.0 C398.8,514.1 397.4,512.4 395.6,512.5 C393.8,512.6 392.9,513.4 390.2,514.8 C387.5,516.2 383.0,518.7 379.4,521.0 C375.8,523.3 371.9,526.4 368.5,528.7 C365.1,531.0 361.6,533.2 359.3,534.9 C357.0,536.6 355.9,537.2 354.6,538.8 C353.3,540.3 353.0,542.9 351.5,544.2 C350.0,545.5 347.2,546.2 345.4,546.5 C343.6,546.8 342.0,546.6 340.7,545.7 C339.4,544.8 338.2,543.9 337.6,541.1 C337.0,538.3 336.6,534.1 336.9,528.7 C337.2,523.3 338.7,514.0 339.2,508.6 C339.7,503.2 339.5,499.7 340.0,496.3 C340.5,492.9 341.2,490.6 342.3,488.5 C343.4,486.4 346.1,484.7 346.9,483.9 Z" fill="url(#liverH2)"/><path d="M393.4,476.6 L397.8,476.6 L397.8,513 L393.4,513.2 Z" fill="#c27268" stroke="#d89890" stroke-width="0.5"/><path d="M445.2,476.2 Q441.2,481 442.1,489 L443.6,525.2 Q445,526.6 446.3,525.2 L445.4,490 Q445.2,483 447.6,478 Z" fill="url(#ureG)"/><path d="M453.9,452.1 C455.3,452.6 459.6,453.3 462.1,454.9 C464.6,456.5 467.3,459.1 469.0,461.8 C470.7,464.6 471.8,468.0 472.5,471.4 C473.2,474.8 473.3,479.0 473.1,482.4 C472.9,485.8 472.2,489.2 471.1,492.0 C470.0,494.8 468.2,497.2 466.3,498.9 C464.4,500.6 461.7,501.9 459.4,502.3 C457.1,502.7 454.4,502.0 452.5,501.0 C450.6,500.0 448.8,498.1 447.7,496.1 C446.6,494.2 446.0,491.8 445.6,489.3 C445.2,486.8 445.4,483.1 445.6,481.0 C445.8,478.9 447.3,478.5 447.0,476.9 C446.7,475.3 444.4,473.5 443.6,471.4 C442.8,469.3 442.1,466.8 442.2,464.5 C442.3,462.2 443.3,459.4 444.3,457.6 C445.3,455.8 446.8,454.4 448.4,453.5 C450.0,452.6 453.0,452.3 453.9,452.1 Z" fill="url(#kidG)" stroke="#5e3406" stroke-width="0.5"/><path d="M453.9,452.1 C455.3,452.6 459.6,453.3 462.1,454.9 C464.6,456.5 467.3,459.1 469.0,461.8 C470.7,464.6 471.8,468.0 472.5,471.4 C473.2,474.8 473.3,479.0 473.1,482.4 C472.9,485.8 472.2,489.2 471.1,492.0 C470.0,494.8 468.2,497.2 466.3,498.9 C464.4,500.6 461.7,501.9 459.4,502.3 C457.1,502.7 454.4,502.0 452.5,501.0 C450.6,500.0 448.8,498.1 447.7,496.1 C446.6,494.2 446.0,491.8 445.6,489.3 C445.2,486.8 445.4,483.1 445.6,481.0 C445.8,478.9 447.3,478.5 447.0,476.9 C446.7,475.3 444.4,473.5 443.6,471.4 C442.8,469.3 442.1,466.8 442.2,464.5 C442.3,462.2 443.3,459.4 444.3,457.6 C445.3,455.8 446.8,454.4 448.4,453.5 C450.0,452.6 453.0,452.3 453.9,452.1 Z" fill="url(#kidH)"/><ellipse cx="468" cy="476" rx="3.5" ry="7" fill="#5a3204" opacity="0.35" filter="url(#blur1)"/><path d="M482.7,416.4 C483.1,415.8 483.9,413.0 485.0,412.5 C486.1,412.0 488.0,413.9 489.5,413.5 C491.0,413.1 492.2,410.4 494.0,409.8 C495.8,409.2 498.4,409.1 500.0,409.6 C501.6,410.1 503.0,411.6 503.5,413.0 C504.0,414.4 502.6,416.3 503.0,418.0 C503.4,419.7 504.7,421.8 506.0,423.0 C507.3,424.2 509.6,424.6 511.0,425.5 C512.4,426.4 513.4,427.0 514.5,428.5 C515.6,430.0 516.5,432.4 517.4,434.6 C518.3,436.9 519.2,438.9 520.1,442.0 C521.0,445.1 522.1,449.2 522.9,453.0 C523.7,456.8 524.4,461.8 524.7,465.0 C525.0,468.2 525.2,470.1 524.7,472.4 C524.2,474.7 523.2,477.7 522.0,478.9 C520.8,480.1 519.2,479.9 517.4,479.8 C515.5,479.7 513.5,479.1 510.9,478.0 C508.3,476.9 504.8,475.2 501.7,473.4 C498.6,471.5 495.1,469.1 492.5,466.9 C489.9,464.7 487.9,462.7 486.0,460.4 C484.1,458.1 482.6,455.3 481.4,453.0 C480.2,450.7 479.2,449.2 478.6,446.6 C478.0,444.0 477.6,440.5 477.7,437.4 C477.8,434.3 478.6,431.5 479.4,428.0 C480.2,424.5 482.1,418.3 482.7,416.4 Z" fill="url(#heartG)" stroke="#9c1414" stroke-width="0.6"/><g clip-path="url(#heartClip)"><path d="M516,432 Q526,455 523,478 Q512,482 498,472 Q515,470 518,455 Z" fill="#a01616" opacity="0.55"/><path d="M481.5,416 Q486,412.5 490,414 Q494.5,426 493.5,441 Q491.5,453 486.5,459 Q480,453 477.8,442 Q477.6,427 481.5,416 Z" fill="#ec5a44"/><path d="M490,414 Q494.5,426 493.5,441 Q491.5,453 486.5,459" fill="none" stroke="#b82a24" stroke-width="0.7" opacity="0.7"/><ellipse cx="483.5" cy="438" rx="6" ry="13" fill="url(#hHi)"/><ellipse cx="503" cy="465" rx="10" ry="6" fill="url(#hHi2)"/><ellipse cx="509" cy="431" rx="7.5" ry="6" fill="#e4503f"/><path d="M478,446 Q482,458 492,466 Q500,472 512,477 L508,482 Q490,476 478,460 Z" fill="#9a1414" opacity="0.45"/></g><path d="M489,418 Q489.5,411 494,409.5 L500.5,409.3 Q503.6,410.5 503.2,415 L501,419 Z" fill="#e6483c"/><path d="M500,410 L502.5,408.8 L504,413.5 L501.5,414 Z" fill="#8c1014"/><path d="M484.4,412 L489.6,412 L489.8,418 L484.6,418 Z" fill="#e4463c"/><ellipse cx="487.1" cy="411.2" rx="2.9" ry="3.3" fill="#3a5fd6"/><path d="M491.2,437 L491.6,426 Q494,423 505.5,417.6 L510.2,421.8 Q502,425.5 499.6,428.5 L498.6,437 Z" fill="#3d64dc"/><ellipse cx="508" cy="419.6" rx="2.1" ry="3.1" transform="rotate(-40 508 419.6)" fill="#7494f0" stroke="#2c4cc0" stroke-width="0.5"/><path d="M496.5,434 Q500,440 502.5,447 Q504.5,453 505.5,457 L504.2,457.5 Q502,451 499.5,446 Q497,440 494.8,435 Z" fill="#4a62d0"/><path d="M500,430 Q501.5,428 503,429.5 L502,432 Z" fill="#f0e8f0"/><g transform="translate(0,0)"><path d="M250.2,468.4 C251.3,468.9 255.5,470.0 257.0,471.7 C258.5,473.4 258.6,474.8 259.0,478.4 C259.4,482.0 259.5,487.4 259.5,493.5 C259.5,499.6 259.3,508.3 259.2,515.3 C259.1,522.3 258.9,530.1 258.6,535.4 C258.3,540.7 258.3,544.4 257.5,547.1 C256.7,549.8 255.9,550.6 253.6,551.6 C251.3,552.6 247.4,552.5 243.5,553.0 C239.6,553.5 234.3,554.2 230.1,554.9 C225.9,555.6 221.2,556.7 218.4,557.0 C215.6,557.3 214.6,557.3 213.4,556.6 C212.2,555.9 211.6,555.7 211.3,553.0 C211.0,550.3 211.1,544.7 211.5,540.4 C211.9,536.1 212.8,532.0 214.0,527.0 C215.2,522.0 216.8,515.9 218.4,510.3 C220.0,504.7 221.5,498.2 223.4,493.5 C225.3,488.8 227.6,485.2 230.1,481.8 C232.6,478.4 236.0,475.5 238.5,473.4 C241.0,471.3 243.2,470.0 245.2,469.2 C247.1,468.4 249.4,468.5 250.2,468.4 Z" fill="url(#lungG1)" stroke="#e48a7a" stroke-width="0.7"/><path d="M281.4,468.0 C282.8,468.3 287.0,468.3 289.8,470.0 C292.6,471.7 295.4,474.8 298.2,478.4 C301.0,482.0 304.0,487.0 306.5,491.8 C309.0,496.6 311.2,502.0 313.2,507.0 C315.2,512.0 317.4,517.3 318.6,522.0 C319.8,526.7 320.1,530.8 320.6,535.0 C321.1,539.2 321.5,543.6 321.6,547.1 C321.7,550.6 321.9,554.3 321.0,556.0 C320.1,557.7 317.9,557.2 316.0,557.2 C314.1,557.2 313.7,556.2 309.9,555.7 C306.1,555.2 298.1,554.4 293.1,554.0 C288.1,553.6 282.4,554.1 279.7,553.2 C277.0,552.3 277.8,551.8 277.2,548.8 C276.6,545.8 276.5,539.9 276.3,535.4 C276.1,530.9 276.4,526.2 276.2,522.0 C276.0,517.8 275.7,515.0 275.4,510.3 C275.1,505.6 274.6,498.8 274.4,493.5 C274.2,488.2 274.2,482.0 274.4,478.4 C274.6,474.8 274.3,473.4 275.5,471.7 C276.7,470.0 280.4,468.6 281.4,468.0 Z" fill="url(#lungG2)" stroke="#e48a7a" stroke-width="0.7"/><path d="M250.2,468.4 C251.3,468.9 255.5,470.0 257.0,471.7 C258.5,473.4 258.6,474.8 259.0,478.4 C259.4,482.0 259.5,487.4 259.5,493.5 C259.5,499.6 259.3,508.3 259.2,515.3 C259.1,522.3 258.9,530.1 258.6,535.4 C258.3,540.7 258.3,544.4 257.5,547.1 C256.7,549.8 255.9,550.6 253.6,551.6 C251.3,552.6 247.4,552.5 243.5,553.0 C239.6,553.5 234.3,554.2 230.1,554.9 C225.9,555.6 221.2,556.7 218.4,557.0 C215.6,557.3 214.6,557.3 213.4,556.6 C212.2,555.9 211.6,555.7 211.3,553.0 C211.0,550.3 211.1,544.7 211.5,540.4 C211.9,536.1 212.8,532.0 214.0,527.0 C215.2,522.0 216.8,515.9 218.4,510.3 C220.0,504.7 221.5,498.2 223.4,493.5 C225.3,488.8 227.6,485.2 230.1,481.8 C232.6,478.4 236.0,475.5 238.5,473.4 C241.0,471.3 243.2,470.0 245.2,469.2 C247.1,468.4 249.4,468.5 250.2,468.4 Z" fill="url(#lungHi)"/><path d="M281.4,468.0 C282.8,468.3 287.0,468.3 289.8,470.0 C292.6,471.7 295.4,474.8 298.2,478.4 C301.0,482.0 304.0,487.0 306.5,491.8 C309.0,496.6 311.2,502.0 313.2,507.0 C315.2,512.0 317.4,517.3 318.6,522.0 C319.8,526.7 320.1,530.8 320.6,535.0 C321.1,539.2 321.5,543.6 321.6,547.1 C321.7,550.6 321.9,554.3 321.0,556.0 C320.1,557.7 317.9,557.2 316.0,557.2 C314.1,557.2 313.7,556.2 309.9,555.7 C306.1,555.2 298.1,554.4 293.1,554.0 C288.1,553.6 282.4,554.1 279.7,553.2 C277.0,552.3 277.8,551.8 277.2,548.8 C276.6,545.8 276.5,539.9 276.3,535.4 C276.1,530.9 276.4,526.2 276.2,522.0 C276.0,517.8 275.7,515.0 275.4,510.3 C275.1,505.6 274.6,498.8 274.4,493.5 C274.2,488.2 274.2,482.0 274.4,478.4 C274.6,474.8 274.3,473.4 275.5,471.7 C276.7,470.0 280.4,468.6 281.4,468.0 Z" fill="url(#lungHi2)"/><path d="M276.2,521.0 C277.4,521.6 281.0,523.2 283.1,524.5 C285.2,525.8 287.8,526.9 289.0,528.7 C290.2,530.5 290.0,532.9 290.6,535.4 C291.2,537.9 291.4,541.5 292.5,543.8 C293.6,546.1 295.5,547.5 297.0,549.0 C298.5,550.5 302.2,551.7 301.5,552.5 C300.8,553.3 296.6,553.9 293.0,554.0 C289.4,554.1 282.3,554.1 279.7,553.2 C277.1,552.3 277.8,551.8 277.2,548.8 C276.6,545.8 276.5,540.0 276.3,535.4 C276.1,530.8 276.2,523.4 276.2,521.0 Z" fill="url(#notchG)"/><path d="M219.4,514.6 Q238,516.4 258.8,514.4" fill="none" stroke="#d98272" stroke-width="0.6"/><path d="M215.8,522 Q222,542 234,552.5" fill="none" stroke="#d98272" stroke-width="0.6"/><path d="M313.5,522 Q312,540 303,553.5" fill="none" stroke="#e08a7a" stroke-width="0.6"/><path d="M262.6,451.5 L262.6,487.5 Q261,491 258.8,494 L261.5,495.5 Q264,491.5 265.9,490 Q268,491.5 270.5,495.5 L273.5,494 Q271,491 269.3,487.5 L269.3,451.5 Z" fill="#f1eff3" stroke="#d2ced6" stroke-width="0.6"/><ellipse cx="265.95" cy="451.4" rx="3.2" ry="1.1" fill="#5e5a5e"/></g><path d="M152,506.5 L160.4,507 Q158.4,509 157,513 Q155.6,517.8 154.4,524 L153.2,534.8 Q149.5,537.4 145.6,535.2 L146.1,526 Q146.6,519.6 149.5,513.5 Z" fill="url(#stemG)" stroke="#7e6e62" stroke-width="0.5"/><path d="M125.6,502.5 Q142,500 158.8,505 Q158,510.5 155.3,514.6 Q150,519.6 144.6,520 Q138.5,519.5 135.2,516.4 Q128.5,511 125.6,502.5 Z" fill="url(#cbG)" stroke="#2e1808" stroke-width="0.5"/><path d="M131,508 Q142,507 153,508 M133,512 Q142,512.5 151,511.5" fill="none" stroke="#7a4a26" stroke-width="0.5"/><path d="M164.2,450.9 C165.6,450.7 169.1,449.5 172.6,449.6 C176.1,449.7 181.7,450.9 185.2,451.7 C188.7,452.5 191.1,452.9 193.6,454.2 C196.1,455.5 198.4,457.3 200.3,459.3 C202.2,461.3 204.2,463.8 205.3,466.0 C206.4,468.2 207.0,470.3 207.0,472.7 C207.0,475.1 206.1,478.1 205.3,480.2 C204.5,482.3 203.4,484.0 202.0,485.3 C200.6,486.6 199.2,487.2 196.9,487.8 C194.7,488.4 190.5,488.2 188.5,488.6 C186.5,489.1 185.5,488.9 185.0,490.5 C184.5,492.1 185.8,495.6 185.6,497.9 C185.3,500.2 185.2,503.1 183.5,504.5 C181.8,505.9 179.2,506.1 175.2,506.2 C171.2,506.3 163.9,505.7 159.6,505.2 C155.3,504.7 152.7,503.6 149.2,503.1 C145.7,502.6 142.3,502.4 138.8,502.0 C135.3,501.6 130.4,501.2 128.0,500.5 C125.6,499.8 125.1,499.5 124.2,497.9 C123.3,496.2 122.7,493.4 122.5,490.6 C122.3,487.8 122.5,484.0 123.2,481.2 C123.9,478.4 125.0,476.3 126.7,473.6 C128.4,470.9 131.3,467.5 133.5,465.2 C135.7,462.9 138.1,461.4 140.0,460.0 C141.9,458.6 142.9,458.0 145.2,456.8 C147.5,455.6 150.4,453.6 153.6,452.6 C156.8,451.6 162.4,451.2 164.2,450.9 Z" fill="#dfdeb3"/><g clip-path="url(#brainClip)"><g clip-path="url(#tlClip)"><path d="M118.0,485.2 C118.4,485.2 119.7,485.2 120.5,485.2 C121.3,485.2 122.1,484.9 122.9,485.0 C123.7,485.2 124.5,485.6 125.3,486.2 C126.1,486.8 126.8,488.5 127.6,488.7 C128.4,488.9 129.3,488.1 130.1,487.3 C130.9,486.6 131.8,484.6 132.7,484.3 C133.5,484.0 134.6,485.3 135.0,485.5" fill="none" stroke="#b8b27a" stroke-opacity="0.55" stroke-width="3.77" stroke-linecap="round" stroke-linejoin="round"/><path d="M118.0,485.2 C118.4,485.2 119.7,485.2 120.5,485.2 C121.3,485.2 122.1,484.9 122.9,485.0 C123.7,485.2 124.5,485.6 125.3,486.2 C126.1,486.8 126.8,488.5 127.6,488.7 C128.4,488.9 129.3,488.1 130.1,487.3 C130.9,486.6 131.8,484.6 132.7,484.3 C133.5,484.0 134.6,485.3 135.0,485.5" fill="none" stroke="#30301a" stroke-width="1.45" stroke-linecap="round" stroke-linejoin="round"/><path d="M142.2,488.1 C142.6,487.9 143.9,487.5 144.7,487.0 C145.5,486.4 146.4,484.8 147.2,484.8 C148.0,484.7 148.8,485.8 149.6,486.6 C150.3,487.4 151.1,489.3 151.9,489.7 C152.7,490.0 153.5,489.0 154.3,488.5 C155.2,488.1 156.0,487.0 156.9,486.8 C157.7,486.5 158.5,486.8 159.3,486.8 C160.1,486.8 160.9,486.5 161.7,486.7 C162.5,486.9 163.3,487.5 164.1,488.1 C164.9,488.7 165.6,490.4 166.4,490.4 C167.2,490.5 168.1,489.4 168.9,488.6 C169.8,487.8 170.7,486.1 171.5,485.9 C172.3,485.7 173.1,486.8 173.8,487.4 C174.6,487.9 175.4,488.9 176.2,489.3 C177.0,489.6 177.8,489.3 178.6,489.4 C179.4,489.5 180.2,489.9 181.0,489.7 C181.9,489.6 182.7,488.9 183.5,488.4 C184.4,487.8 185.2,486.3 186.0,486.4 C186.8,486.4 187.6,487.8 188.4,488.6 C189.1,489.4 190.3,490.9 190.7,491.4" fill="none" stroke="#b8b27a" stroke-opacity="0.55" stroke-width="3.77" stroke-linecap="round" stroke-linejoin="round"/><path d="M142.2,488.1 C142.6,487.9 143.9,487.5 144.7,487.0 C145.5,486.4 146.4,484.8 147.2,484.8 C148.0,484.7 148.8,485.8 149.6,486.6 C150.3,487.4 151.1,489.3 151.9,489.7 C152.7,490.0 153.5,489.0 154.3,488.5 C155.2,488.1 156.0,487.0 156.9,486.8 C157.7,486.5 158.5,486.8 159.3,486.8 C160.1,486.8 160.9,486.5 161.7,486.7 C162.5,486.9 163.3,487.5 164.1,488.1 C164.9,488.7 165.6,490.4 166.4,490.4 C167.2,490.5 168.1,489.4 168.9,488.6 C169.8,487.8 170.7,486.1 171.5,485.9 C172.3,485.7 173.1,486.8 173.8,487.4 C174.6,487.9 175.4,488.9 176.2,489.3 C177.0,489.6 177.8,489.3 178.6,489.4 C179.4,489.5 180.2,489.9 181.0,489.7 C181.9,489.6 182.7,488.9 183.5,488.4 C184.4,487.8 185.2,486.3 186.0,486.4 C186.8,486.4 187.6,487.8 188.4,488.6 C189.1,489.4 190.3,490.9 190.7,491.4" fill="none" stroke="#30301a" stroke-width="1.45" stroke-linecap="round" stroke-linejoin="round"/><path d="M130.1,487.3 C130.1,487.0 130.3,485.8 130.1,485.3 C129.9,484.8 129.2,484.6 129.1,484.5" fill="none" stroke="#b8b27a" stroke-opacity="0.55" stroke-width="3.39" stroke-linecap="round" stroke-linejoin="round"/><path d="M130.1,487.3 C130.1,487.0 130.3,485.8 130.1,485.3 C129.9,484.8 129.2,484.6 129.1,484.5" fill="none" stroke="#30301a" stroke-width="1.305" stroke-linecap="round" stroke-linejoin="round"/><path d="M154.3,488.5 C154.4,488.2 154.8,486.9 154.6,486.3 C154.5,485.7 153.8,485.2 153.6,485.0" fill="none" stroke="#b8b27a" stroke-opacity="0.55" stroke-width="3.39" stroke-linecap="round" stroke-linejoin="round"/><path d="M154.3,488.5 C154.4,488.2 154.8,486.9 154.6,486.3 C154.5,485.7 153.8,485.2 153.6,485.0" fill="none" stroke="#30301a" stroke-width="1.305" stroke-linecap="round" stroke-linejoin="round"/><path d="M118.0,490.5 C118.4,490.4 119.6,490.1 120.5,490.0 C121.3,490.0 122.1,489.9 122.9,490.0 C123.7,490.1 124.5,490.1 125.3,490.6 C126.1,491.0 126.8,492.6 127.6,492.9 C128.4,493.2 129.3,493.1 130.1,492.5 C130.9,492.0 131.8,490.0 132.6,489.6 C133.4,489.2 134.2,489.6 135.0,490.0 C135.8,490.4 136.6,491.7 137.4,492.1 C138.2,492.5 139.0,492.3 139.8,492.3 C140.6,492.4 141.4,492.7 142.2,492.6 C143.0,492.5 143.9,492.3 144.7,491.8 C145.5,491.3 146.4,489.8 147.2,489.7 C148.0,489.6 148.8,490.6 149.6,491.3 C150.3,492.0 151.1,493.8 151.9,494.0 C152.7,494.3 153.5,493.4 154.4,493.0 C155.2,492.5 156.0,491.6 156.8,491.4 C157.7,491.2 158.5,491.5 159.3,491.5 C160.1,491.5 160.9,491.1 161.7,491.4 C162.5,491.6 163.3,492.4 164.1,492.9 C164.9,493.5 165.6,494.8 166.4,494.7 C167.3,494.6 168.1,493.2 169.0,492.5 C169.8,491.8 170.6,490.6 171.5,490.6 C172.3,490.6 173.0,491.9 173.8,492.5 C174.6,493.0 175.4,493.5 176.2,493.7 C177.0,493.9 177.8,493.7 178.6,493.8 C179.4,493.8 180.2,494.2 181.0,493.9 C181.9,493.7 182.7,492.6 183.5,492.1 C184.4,491.6 185.2,490.9 186.0,491.2 C186.8,491.6 187.5,493.5 188.3,494.2 C189.1,494.9 190.3,495.2 190.7,495.4" fill="none" stroke="#b8b27a" stroke-opacity="0.55" stroke-width="3.77" stroke-linecap="round" stroke-linejoin="round"/><path d="M118.0,490.5 C118.4,490.4 119.6,490.1 120.5,490.0 C121.3,490.0 122.1,489.9 122.9,490.0 C123.7,490.1 124.5,490.1 125.3,490.6 C126.1,491.0 126.8,492.6 127.6,492.9 C128.4,493.2 129.3,493.1 130.1,492.5 C130.9,492.0 131.8,490.0 132.6,489.6 C133.4,489.2 134.2,489.6 135.0,490.0 C135.8,490.4 136.6,491.7 137.4,492.1 C138.2,492.5 139.0,492.3 139.8,492.3 C140.6,492.4 141.4,492.7 142.2,492.6 C143.0,492.5 143.9,492.3 144.7,491.8 C145.5,491.3 146.4,489.8 147.2,489.7 C148.0,489.6 148.8,490.6 149.6,491.3 C150.3,492.0 151.1,493.8 151.9,494.0 C152.7,494.3 153.5,493.4 154.4,493.0 C155.2,492.5 156.0,491.6 156.8,491.4 C157.7,491.2 158.5,491.5 159.3,491.5 C160.1,491.5 160.9,491.1 161.7,491.4 C162.5,491.6 163.3,492.4 164.1,492.9 C164.9,493.5 165.6,494.8 166.4,494.7 C167.3,494.6 168.1,493.2 169.0,492.5 C169.8,491.8 170.6,490.6 171.5,490.6 C172.3,490.6 173.0,491.9 173.8,492.5 C174.6,493.0 175.4,493.5 176.2,493.7 C177.0,493.9 177.8,493.7 178.6,493.8 C179.4,493.8 180.2,494.2 181.0,493.9 C181.9,493.7 182.7,492.6 183.5,492.1 C184.4,491.6 185.2,490.9 186.0,491.2 C186.8,491.6 187.5,493.5 188.3,494.2 C189.1,494.9 190.3,495.2 190.7,495.4" fill="none" stroke="#30301a" stroke-width="1.45" stroke-linecap="round" stroke-linejoin="round"/><path d="M118.0,493.9 C118.4,494.1 119.6,494.6 120.4,495.1 C121.2,495.5 122.0,496.8 122.8,496.7 C123.6,496.6 124.5,495.0 125.3,494.5 C126.1,494.0 127.0,493.6 127.8,493.7 C128.6,493.9 129.3,495.2 130.1,495.6 C130.9,496.0 131.7,495.9 132.5,496.0 C133.3,496.1 134.1,496.5 134.9,496.3 C135.8,496.2 136.6,495.5 137.4,495.1 C138.3,494.7 139.1,493.8 139.9,494.0 C140.7,494.3 141.4,496.2 142.2,496.7 C143.0,497.2 143.8,497.4 144.6,497.2 C145.5,497.0 146.3,495.9 147.1,495.6 C148.0,495.3 148.8,495.6 149.6,495.5 C150.4,495.5 151.2,495.2 152.0,495.4 C152.8,495.7 153.6,496.7 154.4,497.1 C155.2,497.5 155.9,498.2 156.8,498.0 C157.6,497.7 158.5,495.8 159.3,495.4 C160.1,495.0 160.9,495.3 161.7,495.6 C162.5,495.9 163.3,497.0 164.1,497.3 C164.9,497.6 165.7,497.4 166.5,497.5 C167.3,497.6 168.1,498.0 168.9,497.8 C169.7,497.5 170.6,496.4 171.4,496.1 C172.2,495.8 173.1,495.5 173.9,495.9 C174.7,496.3 175.4,498.3 176.2,498.7 C177.0,499.1 177.8,498.5 178.6,498.2 C179.4,498.0 180.7,497.2 181.1,496.9" fill="none" stroke="#b8b27a" stroke-opacity="0.55" stroke-width="3.77" stroke-linecap="round" stroke-linejoin="round"/><path d="M118.0,493.9 C118.4,494.1 119.6,494.6 120.4,495.1 C121.2,495.5 122.0,496.8 122.8,496.7 C123.6,496.6 124.5,495.0 125.3,494.5 C126.1,494.0 127.0,493.6 127.8,493.7 C128.6,493.9 129.3,495.2 130.1,495.6 C130.9,496.0 131.7,495.9 132.5,496.0 C133.3,496.1 134.1,496.5 134.9,496.3 C135.8,496.2 136.6,495.5 137.4,495.1 C138.3,494.7 139.1,493.8 139.9,494.0 C140.7,494.3 141.4,496.2 142.2,496.7 C143.0,497.2 143.8,497.4 144.6,497.2 C145.5,497.0 146.3,495.9 147.1,495.6 C148.0,495.3 148.8,495.6 149.6,495.5 C150.4,495.5 151.2,495.2 152.0,495.4 C152.8,495.7 153.6,496.7 154.4,497.1 C155.2,497.5 155.9,498.2 156.8,498.0 C157.6,497.7 158.5,495.8 159.3,495.4 C160.1,495.0 160.9,495.3 161.7,495.6 C162.5,495.9 163.3,497.0 164.1,497.3 C164.9,497.6 165.7,497.4 166.5,497.5 C167.3,497.6 168.1,498.0 168.9,497.8 C169.7,497.5 170.6,496.4 171.4,496.1 C172.2,495.8 173.1,495.5 173.9,495.9 C174.7,496.3 175.4,498.3 176.2,498.7 C177.0,499.1 177.8,498.5 178.6,498.2 C179.4,498.0 180.7,497.2 181.1,496.9" fill="none" stroke="#30301a" stroke-width="1.45" stroke-linecap="round" stroke-linejoin="round"/><path d="M188.3,499.1 C188.7,499.1 190.3,499.0 190.7,499.0" fill="none" stroke="#b8b27a" stroke-opacity="0.55" stroke-width="3.77" stroke-linecap="round" stroke-linejoin="round"/><path d="M188.3,499.1 C188.7,499.1 190.3,499.0 190.7,499.0" fill="none" stroke="#30301a" stroke-width="1.45" stroke-linecap="round" stroke-linejoin="round"/><path d="M144.6,497.2 C145.0,497.3 146.3,497.4 146.9,497.8 C147.4,498.1 147.6,499.0 147.7,499.2" fill="none" stroke="#b8b27a" stroke-opacity="0.55" stroke-width="3.39" stroke-linecap="round" stroke-linejoin="round"/><path d="M144.6,497.2 C145.0,497.3 146.3,497.4 146.9,497.8 C147.4,498.1 147.6,499.0 147.7,499.2" fill="none" stroke="#30301a" stroke-width="1.305" stroke-linecap="round" stroke-linejoin="round"/><path d="M118.0,498.6 C118.4,498.5 119.6,498.3 120.5,498.2 C121.3,498.2 122.1,498.2 122.9,498.3 C123.7,498.3 124.5,498.1 125.3,498.5 C126.1,498.9 126.9,500.0 127.7,500.5 C128.4,501.0 129.2,501.7 130.0,501.4 C130.9,501.2 131.7,499.7 132.6,499.1 C133.4,498.4 134.3,497.6 135.1,497.6 C135.9,497.7 136.6,498.8 137.4,499.3 C138.2,499.8 139.0,500.4 139.8,500.6 C140.6,500.9 141.4,500.6 142.2,500.7 C143.0,500.8 143.8,501.1 144.6,501.0 C145.5,500.9 146.3,500.5 147.1,500.0 C148.0,499.5 148.8,498.3 149.6,498.2 C150.4,498.2 151.2,498.9 152.0,499.5 C152.8,500.2 153.5,501.9 154.3,502.3 C155.1,502.7 155.9,502.3 156.8,501.9 C157.6,501.6 158.4,500.5 159.3,500.2 C160.1,499.9 160.9,500.0 161.7,500.0 C162.5,500.0 163.7,500.0 164.1,500.0" fill="none" stroke="#b8b27a" stroke-opacity="0.55" stroke-width="3.77" stroke-linecap="round" stroke-linejoin="round"/><path d="M118.0,498.6 C118.4,498.5 119.6,498.3 120.5,498.2 C121.3,498.2 122.1,498.2 122.9,498.3 C123.7,498.3 124.5,498.1 125.3,498.5 C126.1,498.9 126.9,500.0 127.7,500.5 C128.4,501.0 129.2,501.7 130.0,501.4 C130.9,501.2 131.7,499.7 132.6,499.1 C133.4,498.4 134.3,497.6 135.1,497.6 C135.9,497.7 136.6,498.8 137.4,499.3 C138.2,499.8 139.0,500.4 139.8,500.6 C140.6,500.9 141.4,500.6 142.2,500.7 C143.0,500.8 143.8,501.1 144.6,501.0 C145.5,500.9 146.3,500.5 147.1,500.0 C148.0,499.5 148.8,498.3 149.6,498.2 C150.4,498.2 151.2,498.9 152.0,499.5 C152.8,500.2 153.5,501.9 154.3,502.3 C155.1,502.7 155.9,502.3 156.8,501.9 C157.6,501.6 158.4,500.5 159.3,500.2 C160.1,499.9 160.9,500.0 161.7,500.0 C162.5,500.0 163.7,500.0 164.1,500.0" fill="none" stroke="#30301a" stroke-width="1.45" stroke-linecap="round" stroke-linejoin="round"/><path d="M171.3,503.0 C171.7,502.6 173.0,501.0 173.8,500.4 C174.7,499.8 175.5,499.3 176.3,499.4 C177.1,499.6 177.9,500.8 178.7,501.3 C179.5,501.8 180.2,502.2 181.0,502.4 C181.8,502.6 182.7,502.4 183.5,502.5 C184.3,502.5 185.1,502.9 185.9,502.7 C186.7,502.6 187.5,501.9 188.4,501.5 C189.2,501.0 190.5,500.2 190.9,499.9" fill="none" stroke="#b8b27a" stroke-opacity="0.55" stroke-width="3.77" stroke-linecap="round" stroke-linejoin="round"/><path d="M171.3,503.0 C171.7,502.6 173.0,501.0 173.8,500.4 C174.7,499.8 175.5,499.3 176.3,499.4 C177.1,499.6 177.9,500.8 178.7,501.3 C179.5,501.8 180.2,502.2 181.0,502.4 C181.8,502.6 182.7,502.4 183.5,502.5 C184.3,502.5 185.1,502.9 185.9,502.7 C186.7,502.6 187.5,501.9 188.4,501.5 C189.2,501.0 190.5,500.2 190.9,499.9" fill="none" stroke="#30301a" stroke-width="1.45" stroke-linecap="round" stroke-linejoin="round"/><path d="M178.7,501.3 C179.0,501.2 180.3,500.9 180.7,500.5 C181.2,500.1 181.3,499.2 181.4,499.0" fill="none" stroke="#b8b27a" stroke-opacity="0.55" stroke-width="3.39" stroke-linecap="round" stroke-linejoin="round"/><path d="M178.7,501.3 C179.0,501.2 180.3,500.9 180.7,500.5 C181.2,500.1 181.3,499.2 181.4,499.0" fill="none" stroke="#30301a" stroke-width="1.305" stroke-linecap="round" stroke-linejoin="round"/><path d="M117.9,503.7 C118.4,503.4 119.6,502.3 120.5,502.0 C121.3,501.7 122.5,502.0 122.9,502.0" fill="none" stroke="#b8b27a" stroke-opacity="0.55" stroke-width="3.77" stroke-linecap="round" stroke-linejoin="round"/><path d="M117.9,503.7 C118.4,503.4 119.6,502.3 120.5,502.0 C121.3,501.7 122.5,502.0 122.9,502.0" fill="none" stroke="#30301a" stroke-width="1.45" stroke-linecap="round" stroke-linejoin="round"/><path d="M130.1,504.7 C130.5,504.3 131.8,502.7 132.6,502.2 C133.4,501.8 134.3,501.6 135.1,501.9 C135.8,502.2 136.6,503.5 137.4,503.9 C138.2,504.2 139.0,504.1 139.8,504.1 C140.6,504.2 141.4,504.6 142.2,504.4 C143.0,504.3 143.9,503.6 144.7,503.3 C145.5,502.9 146.4,501.9 147.2,502.2 C148.0,502.4 148.7,504.2 149.5,504.8 C150.3,505.3 151.1,505.7 151.9,505.6 C152.7,505.4 153.6,504.1 154.4,503.8 C155.2,503.5 156.0,503.7 156.9,503.7 C157.7,503.7 158.5,503.5 159.3,503.7 C160.1,503.9 160.9,504.5 161.7,504.9 C162.4,505.4 163.2,506.6 164.0,506.4 C164.8,506.3 165.7,504.7 166.6,504.2 C167.4,503.7 168.2,503.2 169.0,503.4 C169.8,503.6 170.6,505.0 171.4,505.4 C172.2,505.8 173.0,505.7 173.8,505.8 C174.6,505.9 175.4,506.2 176.2,506.1 C177.0,506.0 177.8,505.6 178.7,505.2 C179.5,504.8 180.4,503.6 181.2,503.8 C182.0,503.9 182.7,505.5 183.5,506.1 C184.3,506.7 185.0,507.5 185.9,507.4 C186.7,507.3 187.5,506.0 188.4,505.7 C189.2,505.3 190.4,505.4 190.8,505.4" fill="none" stroke="#b8b27a" stroke-opacity="0.55" stroke-width="3.77" stroke-linecap="round" stroke-linejoin="round"/><path d="M130.1,504.7 C130.5,504.3 131.8,502.7 132.6,502.2 C133.4,501.8 134.3,501.6 135.1,501.9 C135.8,502.2 136.6,503.5 137.4,503.9 C138.2,504.2 139.0,504.1 139.8,504.1 C140.6,504.2 141.4,504.6 142.2,504.4 C143.0,504.3 143.9,503.6 144.7,503.3 C145.5,502.9 146.4,501.9 147.2,502.2 C148.0,502.4 148.7,504.2 149.5,504.8 C150.3,505.3 151.1,505.7 151.9,505.6 C152.7,505.4 153.6,504.1 154.4,503.8 C155.2,503.5 156.0,503.7 156.9,503.7 C157.7,503.7 158.5,503.5 159.3,503.7 C160.1,503.9 160.9,504.5 161.7,504.9 C162.4,505.4 163.2,506.6 164.0,506.4 C164.8,506.3 165.7,504.7 166.6,504.2 C167.4,503.7 168.2,503.2 169.0,503.4 C169.8,503.6 170.6,505.0 171.4,505.4 C172.2,505.8 173.0,505.7 173.8,505.8 C174.6,505.9 175.4,506.2 176.2,506.1 C177.0,506.0 177.8,505.6 178.7,505.2 C179.5,504.8 180.4,503.6 181.2,503.8 C182.0,503.9 182.7,505.5 183.5,506.1 C184.3,506.7 185.0,507.5 185.9,507.4 C186.7,507.3 187.5,506.0 188.4,505.7 C189.2,505.3 190.4,505.4 190.8,505.4" fill="none" stroke="#30301a" stroke-width="1.45" stroke-linecap="round" stroke-linejoin="round"/></g><g clip-path="url(#frClip)"><path d="M119.4,450.5 C119.2,451.0 118.6,452.8 118.4,453.8 C118.3,454.8 117.9,456.0 118.5,456.6 C119.2,457.1 121.7,457.1 122.4,457.2" fill="none" stroke="#b8b27a" stroke-opacity="0.55" stroke-width="3.77" stroke-linecap="round" stroke-linejoin="round"/><path d="M119.4,450.5 C119.2,451.0 118.6,452.8 118.4,453.8 C118.3,454.8 117.9,456.0 118.5,456.6 C119.2,457.1 121.7,457.1 122.4,457.2" fill="none" stroke="#30301a" stroke-width="1.45" stroke-linecap="round" stroke-linejoin="round"/><path d="M124.9,464.2 C125.1,464.5 125.8,465.6 126.1,466.3 C126.4,467.1 126.4,468.0 127.0,468.6 C127.5,469.3 128.2,469.8 129.2,470.2 C130.1,470.6 132.1,470.4 132.7,471.0 C133.4,471.5 133.4,472.5 133.1,473.5 C132.9,474.6 131.4,476.4 131.3,477.4 C131.1,478.4 131.7,479.1 132.4,479.6 C133.1,480.1 134.8,480.1 135.6,480.6 C136.5,481.0 136.9,481.7 137.4,482.4 C137.9,483.0 138.6,484.0 138.8,484.4" fill="none" stroke="#b8b27a" stroke-opacity="0.55" stroke-width="3.77" stroke-linecap="round" stroke-linejoin="round"/><path d="M124.9,464.2 C125.1,464.5 125.8,465.6 126.1,466.3 C126.4,467.1 126.4,468.0 127.0,468.6 C127.5,469.3 128.2,469.8 129.2,470.2 C130.1,470.6 132.1,470.4 132.7,471.0 C133.4,471.5 133.4,472.5 133.1,473.5 C132.9,474.6 131.4,476.4 131.3,477.4 C131.1,478.4 131.7,479.1 132.4,479.6 C133.1,480.1 134.8,480.1 135.6,480.6 C136.5,481.0 136.9,481.7 137.4,482.4 C137.9,483.0 138.6,484.0 138.8,484.4" fill="none" stroke="#30301a" stroke-width="1.45" stroke-linecap="round" stroke-linejoin="round"/><path d="M131.3,477.4 C131.6,477.5 132.7,478.1 133.3,478.1 C133.9,478.1 134.4,477.5 134.6,477.4" fill="none" stroke="#b8b27a" stroke-opacity="0.55" stroke-width="3.39" stroke-linecap="round" stroke-linejoin="round"/><path d="M131.3,477.4 C131.6,477.5 132.7,478.1 133.3,478.1 C133.9,478.1 134.4,477.5 134.6,477.4" fill="none" stroke="#30301a" stroke-width="1.305" stroke-linecap="round" stroke-linejoin="round"/><path d="M122.7,452.0 C122.9,452.3 123.5,453.4 124.2,453.9 C124.9,454.5 126.3,454.6 127.1,455.1 C127.9,455.6 128.4,456.2 128.9,456.9 C129.4,457.6 129.6,458.4 130.0,459.1 C130.4,459.8 131.0,460.3 131.4,461.1 C131.7,461.9 131.8,462.7 131.8,463.7 C131.8,464.6 131.2,465.9 131.3,466.8 C131.4,467.6 131.7,468.4 132.5,468.9 C133.2,469.4 134.9,469.4 135.9,469.8 C136.9,470.1 138.1,470.4 138.5,471.1 C139.0,471.8 138.6,472.9 138.6,473.9 C138.6,474.8 138.2,475.9 138.4,476.8 C138.5,477.7 139.0,478.3 139.4,479.0 C139.8,479.7 140.2,480.4 140.6,481.1 C141.0,481.8 141.2,482.7 141.8,483.3 C142.5,483.8 143.9,484.4 144.3,484.6" fill="none" stroke="#b8b27a" stroke-opacity="0.55" stroke-width="3.77" stroke-linecap="round" stroke-linejoin="round"/><path d="M122.7,452.0 C122.9,452.3 123.5,453.4 124.2,453.9 C124.9,454.5 126.3,454.6 127.1,455.1 C127.9,455.6 128.4,456.2 128.9,456.9 C129.4,457.6 129.6,458.4 130.0,459.1 C130.4,459.8 131.0,460.3 131.4,461.1 C131.7,461.9 131.8,462.7 131.8,463.7 C131.8,464.6 131.2,465.9 131.3,466.8 C131.4,467.6 131.7,468.4 132.5,468.9 C133.2,469.4 134.9,469.4 135.9,469.8 C136.9,470.1 138.1,470.4 138.5,471.1 C139.0,471.8 138.6,472.9 138.6,473.9 C138.6,474.8 138.2,475.9 138.4,476.8 C138.5,477.7 139.0,478.3 139.4,479.0 C139.8,479.7 140.2,480.4 140.6,481.1 C141.0,481.8 141.2,482.7 141.8,483.3 C142.5,483.8 143.9,484.4 144.3,484.6" fill="none" stroke="#30301a" stroke-width="1.45" stroke-linecap="round" stroke-linejoin="round"/><path d="M131.8,450.5 C132.0,450.9 132.5,452.0 133.0,452.7 C133.4,453.3 134.2,453.8 134.4,454.7 C134.5,455.5 133.9,456.8 133.8,457.8 C133.6,458.8 132.9,460.2 133.5,460.8 C134.1,461.4 136.8,461.2 137.4,461.3" fill="none" stroke="#b8b27a" stroke-opacity="0.55" stroke-width="3.77" stroke-linecap="round" stroke-linejoin="round"/><path d="M131.8,450.5 C132.0,450.9 132.5,452.0 133.0,452.7 C133.4,453.3 134.2,453.8 134.4,454.7 C134.5,455.5 133.9,456.8 133.8,457.8 C133.6,458.8 132.9,460.2 133.5,460.8 C134.1,461.4 136.8,461.2 137.4,461.3" fill="none" stroke="#30301a" stroke-width="1.45" stroke-linecap="round" stroke-linejoin="round"/><path d="M139.8,468.5 C140.0,468.8 140.6,469.9 141.0,470.6 C141.4,471.3 141.4,472.2 142.2,472.7 C142.9,473.2 144.7,473.2 145.6,473.6 C146.4,474.0 147.5,474.4 147.5,475.3 C147.5,476.2 145.8,478.1 145.6,479.2 C145.3,480.3 145.3,481.2 145.9,481.8 C146.5,482.4 148.5,482.3 149.3,482.7 C150.2,483.1 150.9,484.2 151.2,484.5" fill="none" stroke="#b8b27a" stroke-opacity="0.55" stroke-width="3.77" stroke-linecap="round" stroke-linejoin="round"/><path d="M139.8,468.5 C140.0,468.8 140.6,469.9 141.0,470.6 C141.4,471.3 141.4,472.2 142.2,472.7 C142.9,473.2 144.7,473.2 145.6,473.6 C146.4,474.0 147.5,474.4 147.5,475.3 C147.5,476.2 145.8,478.1 145.6,479.2 C145.3,480.3 145.3,481.2 145.9,481.8 C146.5,482.4 148.5,482.3 149.3,482.7 C150.2,483.1 150.9,484.2 151.2,484.5" fill="none" stroke="#30301a" stroke-width="1.45" stroke-linecap="round" stroke-linejoin="round"/><path d="M145.9,481.8 C146.1,482.1 147.0,483.0 147.1,483.5 C147.2,484.0 146.8,484.6 146.7,484.8" fill="none" stroke="#b8b27a" stroke-opacity="0.55" stroke-width="3.39" stroke-linecap="round" stroke-linejoin="round"/><path d="M145.9,481.8 C146.1,482.1 147.0,483.0 147.1,483.5 C147.2,484.0 146.8,484.6 146.7,484.8" fill="none" stroke="#30301a" stroke-width="1.305" stroke-linecap="round" stroke-linejoin="round"/><path d="M138.8,450.6 C138.7,451.1 138.3,452.7 138.3,453.7 C138.3,454.6 138.0,455.7 138.7,456.2 C139.4,456.8 141.3,456.7 142.3,457.0 C143.2,457.4 144.3,457.8 144.6,458.5 C144.9,459.3 144.2,460.6 144.2,461.5 C144.2,462.5 144.4,463.3 144.7,464.1 C144.9,464.9 145.4,465.5 145.8,466.3 C146.2,467.0 146.3,467.9 146.9,468.4 C147.6,469.0 149.0,469.1 149.8,469.6 C150.7,470.1 151.8,470.4 152.0,471.2 C152.1,472.0 151.1,473.6 150.9,474.6 C150.7,475.7 150.4,476.8 150.9,477.4 C151.3,478.1 152.8,478.2 153.6,478.7 C154.4,479.2 155.1,479.7 155.7,480.3 C156.2,481.0 156.5,481.7 156.9,482.4 C157.4,483.1 158.0,484.1 158.3,484.5" fill="none" stroke="#b8b27a" stroke-opacity="0.55" stroke-width="3.77" stroke-linecap="round" stroke-linejoin="round"/><path d="M138.8,450.6 C138.7,451.1 138.3,452.7 138.3,453.7 C138.3,454.6 138.0,455.7 138.7,456.2 C139.4,456.8 141.3,456.7 142.3,457.0 C143.2,457.4 144.3,457.8 144.6,458.5 C144.9,459.3 144.2,460.6 144.2,461.5 C144.2,462.5 144.4,463.3 144.7,464.1 C144.9,464.9 145.4,465.5 145.8,466.3 C146.2,467.0 146.3,467.9 146.9,468.4 C147.6,469.0 149.0,469.1 149.8,469.6 C150.7,470.1 151.8,470.4 152.0,471.2 C152.1,472.0 151.1,473.6 150.9,474.6 C150.7,475.7 150.4,476.8 150.9,477.4 C151.3,478.1 152.8,478.2 153.6,478.7 C154.4,479.2 155.1,479.7 155.7,480.3 C156.2,481.0 156.5,481.7 156.9,482.4 C157.4,483.1 158.0,484.1 158.3,484.5" fill="none" stroke="#30301a" stroke-width="1.45" stroke-linecap="round" stroke-linejoin="round"/><path d="M138.3,453.7 C138.6,453.9 139.4,454.8 139.9,455.0 C140.4,455.2 141.1,454.8 141.3,454.7" fill="none" stroke="#b8b27a" stroke-opacity="0.55" stroke-width="3.39" stroke-linecap="round" stroke-linejoin="round"/><path d="M138.3,453.7 C138.6,453.9 139.4,454.8 139.9,455.0 C140.4,455.2 141.1,454.8 141.3,454.7" fill="none" stroke="#30301a" stroke-width="1.305" stroke-linecap="round" stroke-linejoin="round"/><path d="M144.9,451.4 C144.8,451.9 144.3,453.6 144.7,454.3 C145.2,455.0 146.7,455.1 147.6,455.5 C148.5,455.9 149.5,456.3 150.1,456.9 C150.7,457.5 150.8,458.3 151.2,459.0 C151.6,459.7 152.3,460.3 152.6,461.1 C152.9,461.9 153.0,462.7 153.0,463.6 C153.0,464.6 152.1,466.0 152.3,466.9 C152.4,467.7 152.9,468.4 153.8,468.8 C154.7,469.2 157.1,469.3 157.8,469.4" fill="none" stroke="#b8b27a" stroke-opacity="0.55" stroke-width="3.77" stroke-linecap="round" stroke-linejoin="round"/><path d="M144.9,451.4 C144.8,451.9 144.3,453.6 144.7,454.3 C145.2,455.0 146.7,455.1 147.6,455.5 C148.5,455.9 149.5,456.3 150.1,456.9 C150.7,457.5 150.8,458.3 151.2,459.0 C151.6,459.7 152.3,460.3 152.6,461.1 C152.9,461.9 153.0,462.7 153.0,463.6 C153.0,464.6 152.1,466.0 152.3,466.9 C152.4,467.7 152.9,468.4 153.8,468.8 C154.7,469.2 157.1,469.3 157.8,469.4" fill="none" stroke="#30301a" stroke-width="1.45" stroke-linecap="round" stroke-linejoin="round"/><path d="M159.2,477.0 C159.5,477.3 160.2,478.3 160.6,479.0 C161.0,479.7 161.1,480.6 161.7,481.2 C162.2,481.8 163.1,482.2 164.0,482.7 C164.9,483.1 166.5,483.6 167.0,483.8" fill="none" stroke="#b8b27a" stroke-opacity="0.55" stroke-width="3.77" stroke-linecap="round" stroke-linejoin="round"/><path d="M159.2,477.0 C159.5,477.3 160.2,478.3 160.6,479.0 C161.0,479.7 161.1,480.6 161.7,481.2 C162.2,481.8 163.1,482.2 164.0,482.7 C164.9,483.1 166.5,483.6 167.0,483.8" fill="none" stroke="#30301a" stroke-width="1.45" stroke-linecap="round" stroke-linejoin="round"/><path d="M144.7,454.3 C144.8,454.7 145.4,456.0 145.4,456.6 C145.4,457.3 144.8,458.1 144.7,458.3" fill="none" stroke="#b8b27a" stroke-opacity="0.55" stroke-width="3.39" stroke-linecap="round" stroke-linejoin="round"/><path d="M144.7,454.3 C144.8,454.7 145.4,456.0 145.4,456.6 C145.4,457.3 144.8,458.1 144.7,458.3" fill="none" stroke="#30301a" stroke-width="1.305" stroke-linecap="round" stroke-linejoin="round"/><path d="M160.6,479.0 C160.9,479.1 161.9,479.8 162.5,479.8 C163.0,479.8 163.4,479.3 163.6,479.2" fill="none" stroke="#b8b27a" stroke-opacity="0.55" stroke-width="3.39" stroke-linecap="round" stroke-linejoin="round"/><path d="M160.6,479.0 C160.9,479.1 161.9,479.8 162.5,479.8 C163.0,479.8 163.4,479.3 163.6,479.2" fill="none" stroke="#30301a" stroke-width="1.305" stroke-linecap="round" stroke-linejoin="round"/><path d="M150.7,451.3 C151.1,451.5 152.5,452.1 153.1,452.7 C153.7,453.3 153.8,454.2 154.3,454.9 C154.7,455.6 155.3,456.1 155.6,456.9 C156.0,457.6 156.3,458.4 156.3,459.3 C156.3,460.3 155.6,461.6 155.7,462.5 C155.8,463.3 156.2,464.1 157.0,464.6 C157.8,465.0 159.6,464.9 160.6,465.3 C161.5,465.7 162.3,466.2 162.6,467.0 C162.9,467.7 162.3,469.0 162.3,470.0 C162.3,470.9 162.3,471.8 162.6,472.6 C162.8,473.4 163.6,474.4 163.8,474.7" fill="none" stroke="#b8b27a" stroke-opacity="0.55" stroke-width="3.77" stroke-linecap="round" stroke-linejoin="round"/><path d="M150.7,451.3 C151.1,451.5 152.5,452.1 153.1,452.7 C153.7,453.3 153.8,454.2 154.3,454.9 C154.7,455.6 155.3,456.1 155.6,456.9 C156.0,457.6 156.3,458.4 156.3,459.3 C156.3,460.3 155.6,461.6 155.7,462.5 C155.8,463.3 156.2,464.1 157.0,464.6 C157.8,465.0 159.6,464.9 160.6,465.3 C161.5,465.7 162.3,466.2 162.6,467.0 C162.9,467.7 162.3,469.0 162.3,470.0 C162.3,470.9 162.3,471.8 162.6,472.6 C162.8,473.4 163.6,474.4 163.8,474.7" fill="none" stroke="#30301a" stroke-width="1.45" stroke-linecap="round" stroke-linejoin="round"/><path d="M169.8,479.7 C169.9,480.1 170.6,481.2 170.5,482.1 C170.4,483.1 169.5,485.1 169.3,485.6" fill="none" stroke="#b8b27a" stroke-opacity="0.55" stroke-width="3.77" stroke-linecap="round" stroke-linejoin="round"/><path d="M169.8,479.7 C169.9,480.1 170.6,481.2 170.5,482.1 C170.4,483.1 169.5,485.1 169.3,485.6" fill="none" stroke="#30301a" stroke-width="1.45" stroke-linecap="round" stroke-linejoin="round"/><path d="M155.6,456.9 C155.5,457.2 155.1,458.4 154.7,458.7 C154.3,459.1 153.6,459.0 153.3,459.0" fill="none" stroke="#b8b27a" stroke-opacity="0.55" stroke-width="3.39" stroke-linecap="round" stroke-linejoin="round"/><path d="M155.6,456.9 C155.5,457.2 155.1,458.4 154.7,458.7 C154.3,459.1 153.6,459.0 153.3,459.0" fill="none" stroke="#30301a" stroke-width="1.305" stroke-linecap="round" stroke-linejoin="round"/><path d="M157.7,450.6 C157.9,451.0 158.8,451.9 159.1,452.6 C159.4,453.4 159.6,454.2 159.6,455.2 C159.6,456.1 158.8,457.5 159.0,458.3 C159.2,459.1 159.7,459.8 160.6,460.2 C161.4,460.7 163.3,460.6 164.2,461.0 C165.1,461.4 165.7,462.0 165.9,462.8 C166.2,463.6 165.6,464.9 165.6,465.8 C165.6,466.7 165.8,467.6 166.0,468.4 C166.3,469.1 166.9,469.7 167.3,470.5 C167.6,471.2 167.7,472.1 168.3,472.7 C168.8,473.3 169.6,473.8 170.5,474.3 C171.3,474.7 172.9,475.2 173.3,475.4" fill="none" stroke="#b8b27a" stroke-opacity="0.55" stroke-width="3.77" stroke-linecap="round" stroke-linejoin="round"/><path d="M157.7,450.6 C157.9,451.0 158.8,451.9 159.1,452.6 C159.4,453.4 159.6,454.2 159.6,455.2 C159.6,456.1 158.8,457.5 159.0,458.3 C159.2,459.1 159.7,459.8 160.6,460.2 C161.4,460.7 163.3,460.6 164.2,461.0 C165.1,461.4 165.7,462.0 165.9,462.8 C166.2,463.6 165.6,464.9 165.6,465.8 C165.6,466.7 165.8,467.6 166.0,468.4 C166.3,469.1 166.9,469.7 167.3,470.5 C167.6,471.2 167.7,472.1 168.3,472.7 C168.8,473.3 169.6,473.8 170.5,474.3 C171.3,474.7 172.9,475.2 173.3,475.4" fill="none" stroke="#30301a" stroke-width="1.45" stroke-linecap="round" stroke-linejoin="round"/><path d="M173.7,483.7 C174.2,483.9 176.0,484.7 176.5,484.9" fill="none" stroke="#b8b27a" stroke-opacity="0.55" stroke-width="3.77" stroke-linecap="round" stroke-linejoin="round"/><path d="M173.7,483.7 C174.2,483.9 176.0,484.7 176.5,484.9" fill="none" stroke="#30301a" stroke-width="1.45" stroke-linecap="round" stroke-linejoin="round"/></g><g clip-path="url(#paClip)"><path d="M161.7,448.4 C161.8,448.8 161.6,450.1 162.2,450.8 C162.7,451.5 164.5,452.0 165.2,452.7 C165.8,453.4 166.0,454.2 166.2,455.0 C166.5,455.8 166.5,456.6 166.6,457.4 C166.7,458.2 167.2,459.0 166.9,459.8 C166.7,460.7 165.3,462.2 165.0,462.7" fill="none" stroke="#b8b27a" stroke-opacity="0.55" stroke-width="3.77" stroke-linecap="round" stroke-linejoin="round"/><path d="M161.7,448.4 C161.8,448.8 161.6,450.1 162.2,450.8 C162.7,451.5 164.5,452.0 165.2,452.7 C165.8,453.4 166.0,454.2 166.2,455.0 C166.5,455.8 166.5,456.6 166.6,457.4 C166.7,458.2 167.2,459.0 166.9,459.8 C166.7,460.7 165.3,462.2 165.0,462.7" fill="none" stroke="#30301a" stroke-width="1.45" stroke-linecap="round" stroke-linejoin="round"/><path d="M170.5,469.1 C170.2,469.6 169.3,471.0 168.8,471.9 C168.3,472.8 167.8,473.8 167.7,474.6 C167.6,475.5 168.1,476.2 168.3,477.0 C168.4,477.8 168.2,478.7 168.6,479.4 C168.9,480.2 169.7,480.9 170.5,481.5 C171.3,482.2 173.0,482.7 173.2,483.5 C173.5,484.3 172.6,485.3 172.0,486.2 C171.3,487.2 169.6,488.8 169.1,489.3" fill="none" stroke="#b8b27a" stroke-opacity="0.55" stroke-width="3.77" stroke-linecap="round" stroke-linejoin="round"/><path d="M170.5,469.1 C170.2,469.6 169.3,471.0 168.8,471.9 C168.3,472.8 167.8,473.8 167.7,474.6 C167.6,475.5 168.1,476.2 168.3,477.0 C168.4,477.8 168.2,478.7 168.6,479.4 C168.9,480.2 169.7,480.9 170.5,481.5 C171.3,482.2 173.0,482.7 173.2,483.5 C173.5,484.3 172.6,485.3 172.0,486.2 C171.3,487.2 169.6,488.8 169.1,489.3" fill="none" stroke="#30301a" stroke-width="1.45" stroke-linecap="round" stroke-linejoin="round"/><path d="M168.3,477.0 C168.0,477.3 167.2,478.4 166.6,478.7 C166.0,479.1 165.1,478.9 164.7,478.9" fill="none" stroke="#b8b27a" stroke-opacity="0.55" stroke-width="3.39" stroke-linecap="round" stroke-linejoin="round"/><path d="M168.3,477.0 C168.0,477.3 167.2,478.4 166.6,478.7 C166.0,479.1 165.1,478.9 164.7,478.9" fill="none" stroke="#30301a" stroke-width="1.305" stroke-linecap="round" stroke-linejoin="round"/><path d="M170.4,447.8 C170.6,448.2 171.3,449.3 171.2,450.2 C171.1,451.0 170.5,452.0 170.1,452.9 C169.6,453.8 168.3,454.9 168.5,455.7 C168.7,456.5 170.4,457.0 171.3,457.6 C172.3,458.3 173.8,459.2 174.2,459.6" fill="none" stroke="#b8b27a" stroke-opacity="0.55" stroke-width="3.77" stroke-linecap="round" stroke-linejoin="round"/><path d="M170.4,447.8 C170.6,448.2 171.3,449.3 171.2,450.2 C171.1,451.0 170.5,452.0 170.1,452.9 C169.6,453.8 168.3,454.9 168.5,455.7 C168.7,456.5 170.4,457.0 171.3,457.6 C172.3,458.3 173.8,459.2 174.2,459.6" fill="none" stroke="#30301a" stroke-width="1.45" stroke-linecap="round" stroke-linejoin="round"/><path d="M172.4,467.4 C172.4,467.8 172.2,469.1 172.6,469.8 C173.1,470.5 174.4,471.1 175.1,471.8 C175.9,472.5 177.1,473.1 177.0,473.9 C176.9,474.8 175.0,476.0 174.4,476.9 C173.8,477.9 173.0,478.9 173.3,479.6 C173.5,480.4 175.2,480.9 175.9,481.6 C176.6,482.3 177.0,483.1 177.3,483.8 C177.7,484.6 177.7,485.4 177.9,486.2 C178.0,487.0 178.2,488.2 178.3,488.6" fill="none" stroke="#b8b27a" stroke-opacity="0.55" stroke-width="3.77" stroke-linecap="round" stroke-linejoin="round"/><path d="M172.4,467.4 C172.4,467.8 172.2,469.1 172.6,469.8 C173.1,470.5 174.4,471.1 175.1,471.8 C175.9,472.5 177.1,473.1 177.0,473.9 C176.9,474.8 175.0,476.0 174.4,476.9 C173.8,477.9 173.0,478.9 173.3,479.6 C173.5,480.4 175.2,480.9 175.9,481.6 C176.6,482.3 177.0,483.1 177.3,483.8 C177.7,484.6 177.7,485.4 177.9,486.2 C178.0,487.0 178.2,488.2 178.3,488.6" fill="none" stroke="#30301a" stroke-width="1.45" stroke-linecap="round" stroke-linejoin="round"/><path d="M168.5,455.7 C168.8,455.6 170.1,455.6 170.6,455.3 C171.1,455.1 171.3,454.3 171.4,454.1" fill="none" stroke="#b8b27a" stroke-opacity="0.55" stroke-width="3.39" stroke-linecap="round" stroke-linejoin="round"/><path d="M168.5,455.7 C168.8,455.6 170.1,455.6 170.6,455.3 C171.1,455.1 171.3,454.3 171.4,454.1" fill="none" stroke="#30301a" stroke-width="1.305" stroke-linecap="round" stroke-linejoin="round"/><path d="M174.3,448.4 C174.7,448.7 176.2,449.7 176.8,450.4 C177.5,451.1 177.8,451.9 178.1,452.6 C178.4,453.4 178.4,454.2 178.5,455.0 C178.7,455.8 179.1,456.6 179.0,457.4 C178.9,458.3 178.1,459.3 177.7,460.2 C177.4,461.1 177.0,462.4 176.8,462.8" fill="none" stroke="#b8b27a" stroke-opacity="0.55" stroke-width="3.77" stroke-linecap="round" stroke-linejoin="round"/><path d="M174.3,448.4 C174.7,448.7 176.2,449.7 176.8,450.4 C177.5,451.1 177.8,451.9 178.1,452.6 C178.4,453.4 178.4,454.2 178.5,455.0 C178.7,455.8 179.1,456.6 179.0,457.4 C178.9,458.3 178.1,459.3 177.7,460.2 C177.4,461.1 177.0,462.4 176.8,462.8" fill="none" stroke="#30301a" stroke-width="1.45" stroke-linecap="round" stroke-linejoin="round"/><path d="M181.2,469.5 C181.0,469.9 180.1,471.3 180.0,472.2 C179.9,473.0 180.4,473.7 180.5,474.6 C180.6,475.4 180.5,476.2 180.8,477.0 C181.1,477.8 181.5,478.5 182.2,479.2 C182.9,479.9 184.4,480.4 184.8,481.2 C185.1,482.0 184.8,482.9 184.3,483.8 C183.8,484.7 182.1,485.9 181.8,486.7 C181.5,487.6 182.4,488.7 182.5,489.1" fill="none" stroke="#b8b27a" stroke-opacity="0.55" stroke-width="3.77" stroke-linecap="round" stroke-linejoin="round"/><path d="M181.2,469.5 C181.0,469.9 180.1,471.3 180.0,472.2 C179.9,473.0 180.4,473.7 180.5,474.6 C180.6,475.4 180.5,476.2 180.8,477.0 C181.1,477.8 181.5,478.5 182.2,479.2 C182.9,479.9 184.4,480.4 184.8,481.2 C185.1,482.0 184.8,482.9 184.3,483.8 C183.8,484.7 182.1,485.9 181.8,486.7 C181.5,487.6 182.4,488.7 182.5,489.1" fill="none" stroke="#30301a" stroke-width="1.45" stroke-linecap="round" stroke-linejoin="round"/><path d="M178.1,452.6 C178.4,452.8 179.3,453.7 179.9,453.9 C180.4,454.1 181.1,453.7 181.4,453.6" fill="none" stroke="#b8b27a" stroke-opacity="0.55" stroke-width="3.39" stroke-linecap="round" stroke-linejoin="round"/><path d="M178.1,452.6 C178.4,452.8 179.3,453.7 179.9,453.9 C180.4,454.1 181.1,453.7 181.4,453.6" fill="none" stroke="#30301a" stroke-width="1.305" stroke-linecap="round" stroke-linejoin="round"/><path d="M180.8,477.0 C181.2,477.1 182.4,477.5 183.1,477.4 C183.7,477.3 184.2,476.6 184.5,476.4" fill="none" stroke="#b8b27a" stroke-opacity="0.55" stroke-width="3.39" stroke-linecap="round" stroke-linejoin="round"/><path d="M180.8,477.0 C181.2,477.1 182.4,477.5 183.1,477.4 C183.7,477.3 184.2,476.6 184.5,476.4" fill="none" stroke="#30301a" stroke-width="1.305" stroke-linecap="round" stroke-linejoin="round"/><path d="M181.5,448.3 C182.0,448.6 183.7,449.5 184.2,450.3 C184.8,451.0 184.7,451.8 184.9,452.6 C185.1,453.4 185.4,454.2 185.5,455.0 C185.6,455.8 185.7,456.6 185.4,457.5 C185.0,458.4 183.5,459.5 183.3,460.4 C183.0,461.3 183.2,462.1 184.0,462.7 C184.8,463.4 187.1,463.8 187.9,464.5 C188.7,465.2 189.0,465.9 188.8,466.8 C188.6,467.7 187.2,468.8 186.8,469.7 C186.5,470.6 186.6,471.4 186.6,472.2 C186.7,473.0 187.0,474.2 187.1,474.6" fill="none" stroke="#b8b27a" stroke-opacity="0.55" stroke-width="3.77" stroke-linecap="round" stroke-linejoin="round"/><path d="M181.5,448.3 C182.0,448.6 183.7,449.5 184.2,450.3 C184.8,451.0 184.7,451.8 184.9,452.6 C185.1,453.4 185.4,454.2 185.5,455.0 C185.6,455.8 185.7,456.6 185.4,457.5 C185.0,458.4 183.5,459.5 183.3,460.4 C183.0,461.3 183.2,462.1 184.0,462.7 C184.8,463.4 187.1,463.8 187.9,464.5 C188.7,465.2 189.0,465.9 188.8,466.8 C188.6,467.7 187.2,468.8 186.8,469.7 C186.5,470.6 186.6,471.4 186.6,472.2 C186.7,473.0 187.0,474.2 187.1,474.6" fill="none" stroke="#30301a" stroke-width="1.45" stroke-linecap="round" stroke-linejoin="round"/><path d="M191.8,481.1 C191.3,481.7 189.7,483.2 189.0,484.2 C188.4,485.1 187.6,486.1 187.9,486.9 C188.2,487.6 190.1,488.5 190.6,488.8" fill="none" stroke="#b8b27a" stroke-opacity="0.55" stroke-width="3.77" stroke-linecap="round" stroke-linejoin="round"/><path d="M191.8,481.1 C191.3,481.7 189.7,483.2 189.0,484.2 C188.4,485.1 187.6,486.1 187.9,486.9 C188.2,487.6 190.1,488.5 190.6,488.8" fill="none" stroke="#30301a" stroke-width="1.45" stroke-linecap="round" stroke-linejoin="round"/><path d="M186.4,448.3 C186.3,448.7 185.7,450.0 186.2,450.8 C186.6,451.5 188.4,452.0 189.1,452.7 C189.8,453.4 189.8,454.2 190.1,455.0 C190.3,455.8 190.5,456.6 190.6,457.4 C190.6,458.2 190.8,459.0 190.4,459.9 C190.0,460.8 188.5,462.0 188.4,462.8 C188.2,463.7 189.5,464.7 189.7,465.0" fill="none" stroke="#b8b27a" stroke-opacity="0.55" stroke-width="3.77" stroke-linecap="round" stroke-linejoin="round"/><path d="M186.4,448.3 C186.3,448.7 185.7,450.0 186.2,450.8 C186.6,451.5 188.4,452.0 189.1,452.7 C189.8,453.4 189.8,454.2 190.1,455.0 C190.3,455.8 190.5,456.6 190.6,457.4 C190.6,458.2 190.8,459.0 190.4,459.9 C190.0,460.8 188.5,462.0 188.4,462.8 C188.2,463.7 189.5,464.7 189.7,465.0" fill="none" stroke="#30301a" stroke-width="1.45" stroke-linecap="round" stroke-linejoin="round"/><path d="M191.4,472.2 C191.5,472.6 191.8,473.8 191.9,474.6 C192.0,475.4 191.8,476.2 192.2,477.0 C192.5,477.8 193.3,478.5 194.0,479.1 C194.7,479.8 196.4,480.3 196.6,481.1 C196.7,481.9 195.4,483.0 194.7,484.0 C194.1,484.9 192.6,486.0 192.6,486.9 C192.7,487.7 194.6,488.6 195.0,488.9" fill="none" stroke="#b8b27a" stroke-opacity="0.55" stroke-width="3.77" stroke-linecap="round" stroke-linejoin="round"/><path d="M191.4,472.2 C191.5,472.6 191.8,473.8 191.9,474.6 C192.0,475.4 191.8,476.2 192.2,477.0 C192.5,477.8 193.3,478.5 194.0,479.1 C194.7,479.8 196.4,480.3 196.6,481.1 C196.7,481.9 195.4,483.0 194.7,484.0 C194.1,484.9 192.6,486.0 192.6,486.9 C192.7,487.7 194.6,488.6 195.0,488.9" fill="none" stroke="#30301a" stroke-width="1.45" stroke-linecap="round" stroke-linejoin="round"/><path d="M196.6,447.8 C196.7,448.2 197.3,449.3 197.4,450.1 C197.4,451.0 197.4,451.8 196.9,452.7 C196.4,453.6 194.6,454.8 194.4,455.7 C194.2,456.6 194.7,457.3 195.6,457.9 C196.5,458.6 199.2,458.9 200.0,459.6 C200.8,460.3 200.8,461.1 200.5,462.0 C200.2,462.9 198.7,464.0 198.3,464.9 C197.9,465.8 198.2,466.6 198.2,467.4 C198.2,468.2 198.3,469.0 198.5,469.8 C198.6,470.6 198.5,471.5 199.2,472.2 C199.9,472.9 201.9,473.3 202.6,474.0 C203.3,474.7 204.0,475.4 203.6,476.3 C203.2,477.2 200.9,478.5 200.2,479.5 C199.5,480.4 199.0,481.3 199.3,482.1 C199.7,482.9 201.6,483.3 202.4,484.0 C203.2,484.7 203.6,485.4 204.0,486.2 C204.3,487.0 204.4,488.2 204.5,488.6" fill="none" stroke="#b8b27a" stroke-opacity="0.55" stroke-width="3.77" stroke-linecap="round" stroke-linejoin="round"/><path d="M196.6,447.8 C196.7,448.2 197.3,449.3 197.4,450.1 C197.4,451.0 197.4,451.8 196.9,452.7 C196.4,453.6 194.6,454.8 194.4,455.7 C194.2,456.6 194.7,457.3 195.6,457.9 C196.5,458.6 199.2,458.9 200.0,459.6 C200.8,460.3 200.8,461.1 200.5,462.0 C200.2,462.9 198.7,464.0 198.3,464.9 C197.9,465.8 198.2,466.6 198.2,467.4 C198.2,468.2 198.3,469.0 198.5,469.8 C198.6,470.6 198.5,471.5 199.2,472.2 C199.9,472.9 201.9,473.3 202.6,474.0 C203.3,474.7 204.0,475.4 203.6,476.3 C203.2,477.2 200.9,478.5 200.2,479.5 C199.5,480.4 199.0,481.3 199.3,482.1 C199.7,482.9 201.6,483.3 202.4,484.0 C203.2,484.7 203.6,485.4 204.0,486.2 C204.3,487.0 204.4,488.2 204.5,488.6" fill="none" stroke="#30301a" stroke-width="1.45" stroke-linecap="round" stroke-linejoin="round"/><path d="M200.2,479.5 C200.4,479.8 201.0,481.1 201.5,481.5 C202.0,481.9 203.0,481.9 203.3,482.0" fill="none" stroke="#b8b27a" stroke-opacity="0.55" stroke-width="3.39" stroke-linecap="round" stroke-linejoin="round"/><path d="M200.2,479.5 C200.4,479.8 201.0,481.1 201.5,481.5 C202.0,481.9 203.0,481.9 203.3,482.0" fill="none" stroke="#30301a" stroke-width="1.305" stroke-linecap="round" stroke-linejoin="round"/><path d="M202.6,447.8 C202.6,448.2 202.8,449.4 203.0,450.2 C203.2,451.0 203.8,451.7 203.7,452.6 C203.5,453.4 202.4,454.9 202.2,455.3" fill="none" stroke="#b8b27a" stroke-opacity="0.55" stroke-width="3.77" stroke-linecap="round" stroke-linejoin="round"/><path d="M202.6,447.8 C202.6,448.2 202.8,449.4 203.0,450.2 C203.2,451.0 203.8,451.7 203.7,452.6 C203.5,453.4 202.4,454.9 202.2,455.3" fill="none" stroke="#30301a" stroke-width="1.45" stroke-linecap="round" stroke-linejoin="round"/><path d="M206.9,461.9 C206.7,462.4 206.2,463.7 205.8,464.6 C205.4,465.5 204.5,466.5 204.3,467.4 C204.1,468.2 204.6,469.0 204.7,469.8 C204.8,470.6 204.6,471.5 204.9,472.2 C205.2,473.0 205.7,473.7 206.5,474.4 C207.2,475.1 209.1,475.6 209.5,476.3 C209.9,477.1 209.5,478.0 208.9,478.9 C208.3,479.9 206.2,481.1 205.8,482.0 C205.4,482.9 205.9,483.6 206.5,484.4 C207.1,485.1 208.8,485.6 209.4,486.3 C210.0,487.0 210.2,488.2 210.3,488.6" fill="none" stroke="#b8b27a" stroke-opacity="0.55" stroke-width="3.77" stroke-linecap="round" stroke-linejoin="round"/><path d="M206.9,461.9 C206.7,462.4 206.2,463.7 205.8,464.6 C205.4,465.5 204.5,466.5 204.3,467.4 C204.1,468.2 204.6,469.0 204.7,469.8 C204.8,470.6 204.6,471.5 204.9,472.2 C205.2,473.0 205.7,473.7 206.5,474.4 C207.2,475.1 209.1,475.6 209.5,476.3 C209.9,477.1 209.5,478.0 208.9,478.9 C208.3,479.9 206.2,481.1 205.8,482.0 C205.4,482.9 205.9,483.6 206.5,484.4 C207.1,485.1 208.8,485.6 209.4,486.3 C210.0,487.0 210.2,488.2 210.3,488.6" fill="none" stroke="#30301a" stroke-width="1.45" stroke-linecap="round" stroke-linejoin="round"/></g><path d="M123,484.5 Q140,482.5 152,485 Q165,487.5 176,486 Q182,486 186,489" fill="none" stroke="#33331a" stroke-width="1.4"/><path d="M160,451 Q163,465 161,472 Q160.5,480 164,486.5" fill="none" stroke="#33331a" stroke-width="1.4"/></g><path d="M164.2,450.9 C165.6,450.7 169.1,449.5 172.6,449.6 C176.1,449.7 181.7,450.9 185.2,451.7 C188.7,452.5 191.1,452.9 193.6,454.2 C196.1,455.5 198.4,457.3 200.3,459.3 C202.2,461.3 204.2,463.8 205.3,466.0 C206.4,468.2 207.0,470.3 207.0,472.7 C207.0,475.1 206.1,478.1 205.3,480.2 C204.5,482.3 203.4,484.0 202.0,485.3 C200.6,486.6 199.2,487.2 196.9,487.8 C194.7,488.4 190.5,488.2 188.5,488.6 C186.5,489.1 185.5,488.9 185.0,490.5 C184.5,492.1 185.8,495.6 185.6,497.9 C185.3,500.2 185.2,503.1 183.5,504.5 C181.8,505.9 179.2,506.1 175.2,506.2 C171.2,506.3 163.9,505.7 159.6,505.2 C155.3,504.7 152.7,503.6 149.2,503.1 C145.7,502.6 142.3,502.4 138.8,502.0 C135.3,501.6 130.4,501.2 128.0,500.5 C125.6,499.8 125.1,499.5 124.2,497.9 C123.3,496.2 122.7,493.4 122.5,490.6 C122.3,487.8 122.5,484.0 123.2,481.2 C123.9,478.4 125.0,476.3 126.7,473.6 C128.4,470.9 131.3,467.5 133.5,465.2 C135.7,462.9 138.1,461.4 140.0,460.0 C141.9,458.6 142.9,458.0 145.2,456.8 C147.5,455.6 150.4,453.6 153.6,452.6 C156.8,451.6 162.4,451.2 164.2,450.9 Z" fill="none" stroke="#33331a" stroke-width="1.3"/><text x="279.60" y="53.6" font-family="Liberation Sans, sans-serif" font-size="40.8" font-weight="bold" fill="#000" stroke="#000" stroke-width="0.45" textLength="114.00" lengthAdjust="spacingAndGlyphs">Sepsis</text><text x="175.60" y="243.7" font-family="Liberation Sans, sans-serif" font-size="15.1" font-weight="normal" fill="#231f20" stroke="#231f20" stroke-width="0.28" textLength="71.20" lengthAdjust="spacingAndGlyphs">1. Sources</text><text x="166.60" y="260.4" font-family="Liberation Sans, sans-serif" font-size="15.1" font-weight="normal" fill="#231f20" stroke="#231f20" stroke-width="0.28" textLength="81.20" lengthAdjust="spacingAndGlyphs">of infection</text><text x="487.60" y="148.3" font-family="Liberation Sans, sans-serif" font-size="15.1" font-weight="normal" fill="#231f20" stroke="#231f20" stroke-width="0.28" textLength="73.00" lengthAdjust="spacingAndGlyphs">2. Bacteria</text><text x="477.60" y="167.8" font-family="Liberation Sans, sans-serif" font-size="15.1" font-weight="normal" fill="#231f20" stroke="#231f20" stroke-width="0.28" textLength="83.00" lengthAdjust="spacingAndGlyphs">enter blood</text><text x="577.80" y="371.4" font-family="Liberation Sans, sans-serif" font-size="15.1" font-weight="normal" fill="#231f20" stroke="#231f20" stroke-width="0.28" textLength="71.40" lengthAdjust="spacingAndGlyphs">3. Leaking</text><text x="606.60" y="391.0" font-family="Liberation Sans, sans-serif" font-size="15.1" font-weight="normal" fill="#231f20" stroke="#231f20" stroke-width="0.28" textLength="42.60" lengthAdjust="spacingAndGlyphs">blood</text><text x="601.00" y="411.8" font-family="Liberation Sans, sans-serif" font-size="15.1" font-weight="normal" fill="#231f20" stroke="#231f20" stroke-width="0.28" textLength="47.20" lengthAdjust="spacingAndGlyphs">vessels</text><text x="297.80" y="442.1" font-family="Liberation Sans, sans-serif" font-size="15.1" font-weight="normal" fill="#231f20" stroke="#231f20" stroke-width="0.28" textLength="148.40" lengthAdjust="spacingAndGlyphs">4. Organ dysfunction</text><text x="30.00" y="459.5" font-family="Liberation Sans, sans-serif" font-size="25.6" font-weight="bold" fill="#4a1c1e" stroke="#4a1c1e" stroke-width="0.3" textLength="82.40" lengthAdjust="spacingAndGlyphs">DEATH</text>
</svg>
</body></html>
